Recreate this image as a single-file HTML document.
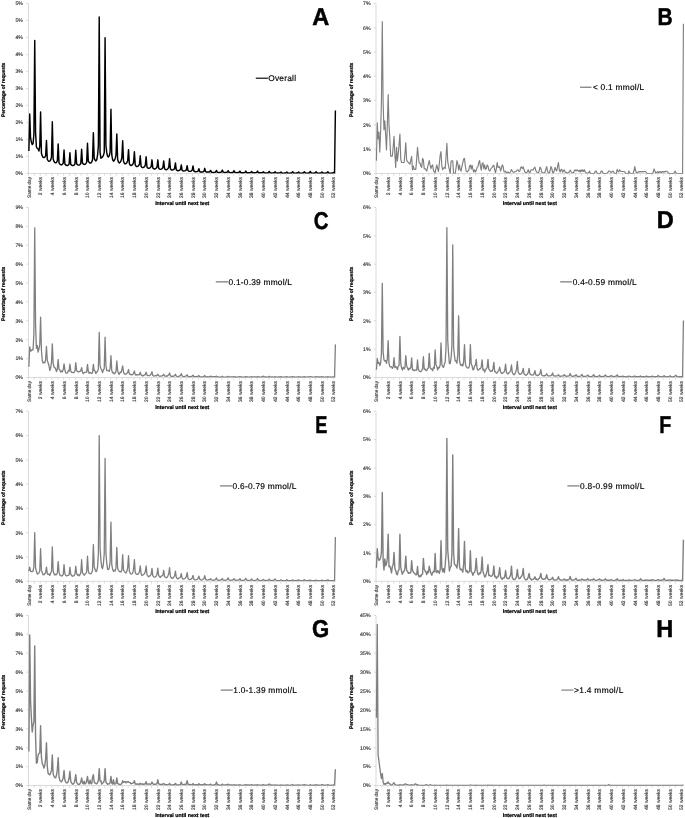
<!DOCTYPE html>
<html><head><meta charset="utf-8"><title>Figure</title>
<style>
html,body{margin:0;padding:0;background:#fff;}
svg{display:block;filter:grayscale(1);}
text{font-family:"Liberation Sans",sans-serif;text-rendering:geometricPrecision;}
.t{font-size:5.2px;fill:#3a3a3a;stroke:#3a3a3a;stroke-width:0.15px;}
.x{font-size:5.0px;fill:#3a3a3a;stroke:#3a3a3a;stroke-width:0.15px;}
.b{font-size:5.3px;font-weight:bold;fill:#000;stroke:#000;stroke-width:0.22px;}
.lg{font-size:8.35px;fill:#000;stroke:#000;stroke-width:0.16px;}
.L{font-size:24.3px;font-weight:bold;fill:#000;stroke:#000;stroke-width:0.5px;}
</style></head><body>
<svg width="685" height="818" viewBox="0 0 685 818">
<rect width="685" height="818" fill="#fff"/>
<g>
<path d="M28.45 3.45V173.45H335.81" fill="none" stroke="#cdcdcd" stroke-width="0.75"/>
<text class="t" x="22.95" y="175.3" text-anchor="end">0%</text>
<text class="t" x="22.95" y="158.3" text-anchor="end">1%</text>
<text class="t" x="22.95" y="141.3" text-anchor="end">1%</text>
<text class="t" x="22.95" y="124.3" text-anchor="end">2%</text>
<text class="t" x="22.95" y="107.3" text-anchor="end">2%</text>
<text class="t" x="22.95" y="90.3" text-anchor="end">3%</text>
<text class="t" x="22.95" y="73.3" text-anchor="end">3%</text>
<text class="t" x="22.95" y="56.3" text-anchor="end">4%</text>
<text class="t" x="22.95" y="39.3" text-anchor="end">4%</text>
<text class="t" x="22.95" y="22.3" text-anchor="end">5%</text>
<text class="t" x="22.95" y="5.3" text-anchor="end">5%</text>
<path d="M26.15 173.45H28.45M26.15 156.45H28.45M26.15 139.45H28.45M26.15 122.45H28.45M26.15 105.45H28.45M26.15 88.45H28.45M26.15 71.45H28.45M26.15 54.45H28.45M26.15 37.45H28.45M26.15 20.45H28.45M26.15 3.45H28.45M28.45 173.45V175.75M34.31 173.45V175.75M40.17 173.45V175.75M46.04 173.45V175.75M51.9 173.45V175.75M57.76 173.45V175.75M63.62 173.45V175.75M69.49 173.45V175.75M75.35 173.45V175.75M81.21 173.45V175.75M87.08 173.45V175.75M92.94 173.45V175.75M98.8 173.45V175.75M104.66 173.45V175.75M110.53 173.45V175.75M116.39 173.45V175.75M122.25 173.45V175.75M128.11 173.45V175.75M133.97 173.45V175.75M139.84 173.45V175.75M145.7 173.45V175.75M151.56 173.45V175.75M157.42 173.45V175.75M163.29 173.45V175.75M169.15 173.45V175.75M175.01 173.45V175.75M180.88 173.45V175.75M186.74 173.45V175.75M192.6 173.45V175.75M198.46 173.45V175.75M204.32 173.45V175.75M210.19 173.45V175.75M216.05 173.45V175.75M221.91 173.45V175.75M227.78 173.45V175.75M233.64 173.45V175.75M239.5 173.45V175.75M245.36 173.45V175.75M251.22 173.45V175.75M257.09 173.45V175.75M262.95 173.45V175.75M268.81 173.45V175.75M274.68 173.45V175.75M280.54 173.45V175.75M286.4 173.45V175.75M292.26 173.45V175.75M298.12 173.45V175.75M303.99 173.45V175.75M309.85 173.45V175.75M315.71 173.45V175.75M321.57 173.45V175.75M327.44 173.45V175.75M333.3 173.45V175.75" stroke="#cdcdcd" stroke-width="0.7" fill="none"/>
<text class="x" transform="translate(30.6 176.95) rotate(-90)" text-anchor="end" textLength="21" lengthAdjust="spacingAndGlyphs">Same day</text>
<text class="x" transform="translate(42.32 176.95) rotate(-90)" text-anchor="end">2 weeks</text>
<text class="x" transform="translate(54.05 176.95) rotate(-90)" text-anchor="end">4 weeks</text>
<text class="x" transform="translate(65.78 176.95) rotate(-90)" text-anchor="end">6 weeks</text>
<text class="x" transform="translate(77.5 176.95) rotate(-90)" text-anchor="end">8 weeks</text>
<text class="x" transform="translate(89.23 176.95) rotate(-90)" text-anchor="end">10 weeks</text>
<text class="x" transform="translate(100.95 176.95) rotate(-90)" text-anchor="end">12 weeks</text>
<text class="x" transform="translate(112.68 176.95) rotate(-90)" text-anchor="end">14 weeks</text>
<text class="x" transform="translate(124.4 176.95) rotate(-90)" text-anchor="end">16 weeks</text>
<text class="x" transform="translate(136.12 176.95) rotate(-90)" text-anchor="end">18 weeks</text>
<text class="x" transform="translate(147.85 176.95) rotate(-90)" text-anchor="end">20 weeks</text>
<text class="x" transform="translate(159.57 176.95) rotate(-90)" text-anchor="end">22 weeks</text>
<text class="x" transform="translate(171.3 176.95) rotate(-90)" text-anchor="end">24 weeks</text>
<text class="x" transform="translate(183.03 176.95) rotate(-90)" text-anchor="end">26 weeks</text>
<text class="x" transform="translate(194.75 176.95) rotate(-90)" text-anchor="end">28 weeks</text>
<text class="x" transform="translate(206.47 176.95) rotate(-90)" text-anchor="end">30 weeks</text>
<text class="x" transform="translate(218.2 176.95) rotate(-90)" text-anchor="end">32 weeks</text>
<text class="x" transform="translate(229.93 176.95) rotate(-90)" text-anchor="end">34 weeks</text>
<text class="x" transform="translate(241.65 176.95) rotate(-90)" text-anchor="end">36 weeks</text>
<text class="x" transform="translate(253.38 176.95) rotate(-90)" text-anchor="end">38 weeks</text>
<text class="x" transform="translate(265.1 176.95) rotate(-90)" text-anchor="end">40 weeks</text>
<text class="x" transform="translate(276.82 176.95) rotate(-90)" text-anchor="end">42 weeks</text>
<text class="x" transform="translate(288.55 176.95) rotate(-90)" text-anchor="end">44 weeks</text>
<text class="x" transform="translate(300.27 176.95) rotate(-90)" text-anchor="end">46 weeks</text>
<text class="x" transform="translate(312 176.95) rotate(-90)" text-anchor="end">48 weeks</text>
<text class="x" transform="translate(323.72 176.95) rotate(-90)" text-anchor="end">50 weeks</text>
<text class="x" transform="translate(335.45 176.95) rotate(-90)" text-anchor="end">52 weeks</text>
<text class="b" transform="translate(5.05 89.85) rotate(-90)" text-anchor="middle" textLength="54.4" lengthAdjust="spacingAndGlyphs">Percentage of requests</text>
<text class="b" x="182.25" y="205" text-anchor="middle" textLength="54.2" lengthAdjust="spacingAndGlyphs">Interval until next test</text>
<clipPath id="cpA"><rect x="25.45" y="-2.55" width="313.36" height="176.2"/></clipPath>
<polyline clip-path="url(#cpA)" points="28.87,151.01 29.71,113.95 30.54,137.75 31.38,142.17 32.22,144.55 33.06,143.53 33.89,134.35 34.73,40.51 35.57,132.65 36.41,146.93 37.24,148.29 38.08,148.97 38.92,151.01 39.76,146.25 40.59,111.91 41.43,153.22 42.27,155.97 43.11,157.35 43.94,157.64 44.78,157.12 45.62,155.9 46.46,140.47 47.29,159.44 48.13,160.71 48.97,161.34 49.81,161.15 50.64,159.96 51.48,157.17 52.32,121.77 53.16,158.95 53.99,161.43 54.83,162.67 55.67,162.89 56.51,162.31 57.34,160.97 58.18,143.87 59.02,162.84 59.86,164.11 60.69,164.74 61.53,164.8 62.37,164.35 63.21,163.3 64.04,149.99 64.88,164.07 65.72,165 66.56,165.47 67.39,165.5 68.23,165.11 69.07,164.21 69.91,152.71 70.74,164.34 71.58,165.11 72.42,165.5 73.26,165.48 74.09,165.02 74.93,163.95 75.77,150.33 76.61,163.79 77.44,164.69 78.28,165.14 79.12,165.13 79.96,164.65 80.79,163.53 81.63,149.31 82.47,163.08 83.31,164 84.14,164.46 84.98,164.4 85.82,163.75 86.66,162.25 87.49,143.19 88.33,161.24 89.17,162.45 90.01,163.05 90.84,162.94 91.68,162.03 92.52,159.88 93.36,132.65 94.19,158.35 95.03,160.07 95.87,160.92 96.71,159.77 97.54,155.44 98.38,145.35 99.22,17.05 100.06,152.37 100.89,158.15 101.73,157.81 102.57,156.79 103.41,155.43 104.24,152.37 105.08,37.79 105.92,145.5 106.76,152.68 107.59,156.27 108.43,156.99 109.27,155.54 110.11,152.16 110.94,109.19 111.78,154.97 112.62,159.65 113.46,161.21 114.29,160.39 115.13,158.76 115.97,155.23 116.81,134.01 117.64,159.44 118.48,162.04 119.32,162.91 120.16,162.25 120.99,160.92 121.83,158.05 122.67,140.81 123.51,161.16 124.34,163.24 125.18,163.93 126.02,163.5 126.86,162.64 127.69,160.79 128.53,149.65 129.37,163.71 130.21,165.15 131.04,165.63 131.88,165.21 132.72,164.38 133.56,162.56 134.39,151.69 135.23,164.85 136.07,166.2 136.91,166.65 137.74,166.32 138.58,165.67 139.42,164.26 140.26,155.77 141.09,166.24 141.93,167.31 142.77,167.67 143.61,167.34 144.44,166.69 145.28,165.28 146.12,156.79 146.96,166.96 147.79,168 148.63,168.35 149.47,168.09 150.31,167.58 151.14,166.48 151.98,159.85 152.82,167.93 153.66,168.75 154.49,169.03 155.33,168.75 156.17,168.2 157.01,167.01 157.84,159.85 158.68,168.23 159.52,169.08 160.36,169.37 161.19,169.11 162.03,168.6 162.87,167.5 163.71,160.87 164.54,168.65 165.38,169.44 166.22,169.71 167.06,169.38 167.89,168.73 168.73,167.32 169.57,158.83 170.41,168.7 171.24,169.71 172.08,170.05 172.92,169.84 173.76,169.41 174.59,168.48 175.43,162.91 176.27,169.79 177.11,170.5 177.94,170.73 178.78,170.56 179.62,170.21 180.46,169.46 181.29,164.95 182.13,170.34 182.97,170.89 183.81,171.07 184.64,170.91 185.48,170.58 186.32,169.87 187.16,165.63 187.99,170.72 188.83,171.24 189.67,171.41 190.51,171.25 191.34,170.92 192.18,170.21 193.02,165.97 193.86,171.06 194.69,171.58 195.53,171.75 196.37,171.66 197.21,171.47 198.04,171.08 198.88,168.69 199.72,171.68 200.56,171.99 201.39,172.09 202.23,171.98 203.07,171.75 203.91,171.27 204.74,168.35 205.58,171.64 206.42,171.98 207.26,172.09 208.09,172.04 208.93,171.94 209.77,171.72 210.61,170.39 211.44,172.19 212.28,172.37 213.12,172.43 213.96,172.37 214.79,172.25 215.63,171.98 216.47,170.39 217.31,172.19 218.14,172.37 218.98,172.43 219.82,172.36 220.66,172.22 221.49,171.91 222.33,170.05 223.17,172.14 224.01,172.36 224.84,172.43 225.68,172.38 226.52,172.28 227.36,172.06 228.19,170.73 229.03,172.38 229.87,172.54 230.71,172.6 231.54,172.54 232.38,172.43 233.22,172.19 234.06,170.73 234.89,172.38 235.73,172.54 236.57,172.6 237.41,172.55 238.24,172.46 239.08,172.26 239.92,171.07 240.76,172.57 241.59,172.72 242.43,172.77 243.27,172.72 244.11,172.62 244.94,172.4 245.78,171.07 246.62,172.57 247.46,172.72 248.29,172.77 249.13,172.73 249.97,172.65 250.81,172.47 251.64,171.41 252.48,172.61 253.32,172.73 254.16,172.77 254.99,172.72 255.83,172.62 256.67,172.4 257.51,171.07 258.34,172.57 259.18,172.72 260.02,172.77 260.86,172.74 261.69,172.68 262.53,172.55 263.37,171.75 264.21,172.8 265.04,172.9 265.88,172.94 266.72,172.89 267.56,172.8 268.39,172.6 269.23,171.41 270.07,172.76 270.91,172.89 271.74,172.94 272.58,172.9 273.42,172.83 274.26,172.68 275.09,171.75 275.93,172.8 276.77,172.9 277.61,172.94 278.44,172.91 279.28,172.86 280.12,172.75 280.96,172.09 281.79,172.99 282.63,173.08 283.47,173.11 284.31,173.08 285.14,173.02 285.98,172.89 286.82,172.09 287.66,172.99 288.49,173.08 289.33,173.11 290.17,173.07 291.01,172.99 291.84,172.81 292.68,171.75 293.52,172.95 294.36,173.07 295.19,173.11 296.03,173.08 296.87,173.02 297.71,172.89 298.54,172.09 299.38,172.99 300.22,173.08 301.06,173.11 301.89,173.07 302.73,172.99 303.57,172.81 304.41,171.75 305.24,172.95 306.08,173.07 306.92,173.11 307.76,173.06 308.59,172.96 309.43,172.74 310.27,171.41 311.11,172.91 311.94,173.06 312.78,173.11 313.62,173.07 314.46,172.99 315.29,172.81 316.13,171.75 316.97,172.95 317.81,173.07 318.64,173.11 319.48,173.08 320.32,173.02 321.16,172.89 321.99,172.09 322.83,172.99 323.67,173.08 324.51,173.11 325.34,173.07 326.18,172.99 327.02,172.81 327.86,171.75 328.69,172.95 329.53,173.07 330.37,173.11 331.21,173.09 332.04,173.05 332.88,172.96 333.72,172.43 334.56,173.03 335.39,110.55" fill="none" stroke="#000000" stroke-width="1.45" stroke-linejoin="round" stroke-linecap="butt"/>
<path d="M255.8 78.2H267.9" stroke="#000" stroke-width="1.15" fill="none"/>
<text class="lg" x="268.2" y="80.8" textLength="27.8" lengthAdjust="spacing">Overall</text>
<text class="L" transform="translate(320.75 24.55) scale(0.97 1)" text-anchor="middle">A</text>
</g>
<g>
<path d="M376 3.45V173.45H683.84" fill="none" stroke="#cdcdcd" stroke-width="0.75"/>
<text class="t" x="370.5" y="175.3" text-anchor="end">0%</text>
<text class="t" x="370.5" y="151.01" text-anchor="end">1%</text>
<text class="t" x="370.5" y="126.73" text-anchor="end">2%</text>
<text class="t" x="370.5" y="102.44" text-anchor="end">3%</text>
<text class="t" x="370.5" y="78.16" text-anchor="end">4%</text>
<text class="t" x="370.5" y="53.87" text-anchor="end">5%</text>
<text class="t" x="370.5" y="29.59" text-anchor="end">6%</text>
<text class="t" x="370.5" y="5.3" text-anchor="end">7%</text>
<path d="M373.7 173.45H376M373.7 149.16H376M373.7 124.88H376M373.7 100.59H376M373.7 76.31H376M373.7 52.02H376M373.7 27.74H376M373.7 3.45H376M376 173.45V175.75M381.87 173.45V175.75M387.74 173.45V175.75M393.61 173.45V175.75M399.49 173.45V175.75M405.36 173.45V175.75M411.23 173.45V175.75M417.1 173.45V175.75M422.97 173.45V175.75M428.84 173.45V175.75M434.72 173.45V175.75M440.59 173.45V175.75M446.46 173.45V175.75M452.33 173.45V175.75M458.2 173.45V175.75M464.07 173.45V175.75M469.95 173.45V175.75M475.82 173.45V175.75M481.69 173.45V175.75M487.56 173.45V175.75M493.43 173.45V175.75M499.3 173.45V175.75M505.18 173.45V175.75M511.05 173.45V175.75M516.92 173.45V175.75M522.79 173.45V175.75M528.66 173.45V175.75M534.53 173.45V175.75M540.4 173.45V175.75M546.28 173.45V175.75M552.15 173.45V175.75M558.02 173.45V175.75M563.89 173.45V175.75M569.76 173.45V175.75M575.63 173.45V175.75M581.51 173.45V175.75M587.38 173.45V175.75M593.25 173.45V175.75M599.12 173.45V175.75M604.99 173.45V175.75M610.86 173.45V175.75M616.74 173.45V175.75M622.61 173.45V175.75M628.48 173.45V175.75M634.35 173.45V175.75M640.22 173.45V175.75M646.09 173.45V175.75M651.97 173.45V175.75M657.84 173.45V175.75M663.71 173.45V175.75M669.58 173.45V175.75M675.45 173.45V175.75M681.32 173.45V175.75" stroke="#cdcdcd" stroke-width="0.7" fill="none"/>
<text class="x" transform="translate(378.15 176.95) rotate(-90)" text-anchor="end" textLength="21" lengthAdjust="spacingAndGlyphs">Same day</text>
<text class="x" transform="translate(389.89 176.95) rotate(-90)" text-anchor="end">2 weeks</text>
<text class="x" transform="translate(401.64 176.95) rotate(-90)" text-anchor="end">4 weeks</text>
<text class="x" transform="translate(413.38 176.95) rotate(-90)" text-anchor="end">6 weeks</text>
<text class="x" transform="translate(425.12 176.95) rotate(-90)" text-anchor="end">8 weeks</text>
<text class="x" transform="translate(436.87 176.95) rotate(-90)" text-anchor="end">10 weeks</text>
<text class="x" transform="translate(448.61 176.95) rotate(-90)" text-anchor="end">12 weeks</text>
<text class="x" transform="translate(460.35 176.95) rotate(-90)" text-anchor="end">14 weeks</text>
<text class="x" transform="translate(472.1 176.95) rotate(-90)" text-anchor="end">16 weeks</text>
<text class="x" transform="translate(483.84 176.95) rotate(-90)" text-anchor="end">18 weeks</text>
<text class="x" transform="translate(495.58 176.95) rotate(-90)" text-anchor="end">20 weeks</text>
<text class="x" transform="translate(507.33 176.95) rotate(-90)" text-anchor="end">22 weeks</text>
<text class="x" transform="translate(519.07 176.95) rotate(-90)" text-anchor="end">24 weeks</text>
<text class="x" transform="translate(530.81 176.95) rotate(-90)" text-anchor="end">26 weeks</text>
<text class="x" transform="translate(542.55 176.95) rotate(-90)" text-anchor="end">28 weeks</text>
<text class="x" transform="translate(554.3 176.95) rotate(-90)" text-anchor="end">30 weeks</text>
<text class="x" transform="translate(566.04 176.95) rotate(-90)" text-anchor="end">32 weeks</text>
<text class="x" transform="translate(577.78 176.95) rotate(-90)" text-anchor="end">34 weeks</text>
<text class="x" transform="translate(589.53 176.95) rotate(-90)" text-anchor="end">36 weeks</text>
<text class="x" transform="translate(601.27 176.95) rotate(-90)" text-anchor="end">38 weeks</text>
<text class="x" transform="translate(613.01 176.95) rotate(-90)" text-anchor="end">40 weeks</text>
<text class="x" transform="translate(624.76 176.95) rotate(-90)" text-anchor="end">42 weeks</text>
<text class="x" transform="translate(636.5 176.95) rotate(-90)" text-anchor="end">44 weeks</text>
<text class="x" transform="translate(648.24 176.95) rotate(-90)" text-anchor="end">46 weeks</text>
<text class="x" transform="translate(659.99 176.95) rotate(-90)" text-anchor="end">48 weeks</text>
<text class="x" transform="translate(671.73 176.95) rotate(-90)" text-anchor="end">50 weeks</text>
<text class="x" transform="translate(683.47 176.95) rotate(-90)" text-anchor="end">52 weeks</text>
<text class="b" transform="translate(352.6 89.85) rotate(-90)" text-anchor="middle" textLength="54.4" lengthAdjust="spacingAndGlyphs">Percentage of requests</text>
<text class="b" x="529.8" y="205" text-anchor="middle" textLength="54.2" lengthAdjust="spacingAndGlyphs">Interval until next test</text>
<clipPath id="cpB"><rect x="373" y="-2.55" width="313.84" height="176.2"/></clipPath>
<polyline clip-path="url(#cpB)" points="376.42,160.82 377.26,122.94 378.1,138.96 378.94,132.16 379.77,152.08 380.61,132.16 381.45,100.59 382.29,21.66 383.13,103.02 383.97,129.74 384.81,120.75 385.65,134.59 386.49,149.89 387.32,124.88 388.16,94.52 389,124.88 389.84,138.24 390.68,155.96 391.52,156.45 392.36,155.96 393.2,146.74 394.03,136.29 394.87,154.02 395.71,167.38 396.55,147.22 397.39,160.82 398.23,154.02 399.07,144.31 399.91,134.11 400.74,158.88 401.58,162.52 402.42,162.52 403.26,162.52 404.1,162.52 404.94,154.02 405.78,142.85 406.62,160.09 407.45,161.31 408.29,162.52 409.13,163.25 409.97,164.22 410.81,160.09 411.65,156.45 412.49,169.81 413.33,166.16 414.17,169.32 415,169.32 415.84,169.32 416.68,158.88 417.52,147.22 418.36,156.45 419.2,163.01 420.04,163.01 420.88,166.16 421.71,167.38 422.55,158.39 423.39,160.09 424.23,168.59 425.07,168.59 425.91,169.81 426.75,171.02 427.59,167.38 428.43,163.74 429.26,160.58 430.1,164.95 430.94,168.59 431.78,166.16 432.62,164.95 433.46,170.54 434.3,171.99 435.14,172.96 435.97,168.59 436.81,164.95 437.65,168.59 438.49,171.51 439.33,163.74 440.17,155.24 441.01,151.59 441.85,166.16 442.68,169.81 443.52,168.11 444.36,167.38 445.2,168.59 446.04,156.45 446.88,143.34 447.72,161.31 448.56,166.16 449.39,169.81 450.23,173.45 451.07,161.31 451.91,160.82 452.75,160.82 453.59,173.45 454.43,173.45 455.27,173.45 456.11,167.38 456.94,160.58 457.78,163.74 458.62,169.81 459.46,164.95 460.3,169.81 461.14,171.02 461.98,166.16 462.82,162.52 463.65,158.88 464.49,158.39 465.33,166.16 466.17,171.02 467.01,171.99 467.85,171.02 468.69,170.54 469.53,166.16 470.37,165.19 471.2,169.08 472.04,165.19 472.88,169.08 473.72,171.99 474.56,169.81 475.4,171.99 476.24,170.54 477.08,167.38 477.91,166.65 478.75,162.52 479.59,160.58 480.43,166.16 481.27,170.05 482.11,163.74 482.95,162.76 483.79,168.59 484.62,164.95 485.46,169.32 486.3,168.59 487.14,164.95 487.98,166.16 488.82,169.81 489.66,171.02 490.5,169.81 491.33,168.11 492.17,167.38 493.01,165.68 493.85,165.19 494.69,169.81 495.53,172.72 496.37,168.59 497.21,162.52 498.05,167.38 498.88,167.38 499.72,166.65 500.56,171.02 501.4,168.59 502.24,164.95 503.08,166.16 503.92,171.51 504.76,171.99 505.59,171.02 506.43,172.96 507.27,172.96 508.11,171.99 508.95,172.96 509.79,172.96 510.63,171.51 511.47,169.56 512.31,171.02 513.14,172.24 513.98,172.24 514.82,171.75 515.66,171.51 516.5,171.02 517.34,169.81 518.18,170.05 519.02,171.51 519.85,171.02 520.69,167.38 521.53,166.89 522.37,168.59 523.21,166.89 524.05,169.81 524.89,171.99 525.73,172.48 526.56,172.96 527.4,171.51 528.24,169.81 529.08,172.24 529.92,172.72 530.76,170.05 531.6,169.81 532.44,169.81 533.27,169.81 534.11,168.11 534.95,167.14 535.79,170.54 536.63,171.99 537.47,172.48 538.31,172.72 539.15,171.02 539.99,167.14 540.82,168.11 541.66,171.99 542.5,172.48 543.34,172.72 544.18,172.72 545.02,172.24 545.86,169.08 546.7,166.65 547.53,171.02 548.37,172.96 549.21,172.96 550.05,171.02 550.89,166.65 551.73,168.11 552.57,172.24 553.41,172.96 554.25,170.54 555.08,167.38 555.92,169.81 556.76,171.02 557.6,166.16 558.44,162.52 559.28,169.81 560.12,171.99 560.96,169.81 561.79,169.32 562.63,172.24 563.47,170.54 564.31,169.81 565.15,172.24 565.99,172.24 566.83,172.96 567.67,172.96 568.5,172.24 569.34,171.99 570.18,170.05 571.02,171.51 571.86,172.72 572.7,172.72 573.54,172.72 574.38,170.54 575.22,169.81 576.05,171.02 576.89,169.81 577.73,170.29 578.57,171.51 579.41,170.29 580.25,171.99 581.09,169.81 581.93,171.51 582.76,169.81 583.6,171.51 584.44,169.81 585.28,171.99 586.12,172.96 586.96,172.96 587.8,172.96 588.64,172.96 589.47,171.02 590.31,172.96 591.15,173.45 591.99,173.45 592.83,173.45 593.67,173.45 594.51,172.96 595.35,171.02 596.18,171.02 597.02,172.96 597.86,173.45 598.7,173.45 599.54,173.45 600.38,172.96 601.22,171.02 602.06,171.02 602.9,172.96 603.73,173.45 604.57,173.45 605.41,173.45 606.25,173.45 607.09,173.45 607.93,172.24 608.77,171.02 609.61,171.02 610.44,171.99 611.28,172.48 612.12,171.51 612.96,171.02 613.8,172.24 614.64,173.45 615.48,173.45 616.32,173.45 617.15,169.32 617.99,171.02 618.83,171.99 619.67,169.81 620.51,171.02 621.35,171.51 622.19,171.51 623.03,171.51 623.87,171.51 624.7,171.75 625.54,173.45 626.38,173.45 627.22,173.45 628.06,173.45 628.9,171.02 629.74,172.96 630.58,173.45 631.41,173.45 632.25,173.45 633.09,173.45 633.93,171.02 634.77,166.65 635.61,170.54 636.45,172.72 637.29,172.96 638.12,172.24 638.96,171.51 639.8,171.99 640.64,171.51 641.48,171.99 642.32,171.51 643.16,171.99 644,171.51 644.84,171.51 645.67,171.51 646.51,172.96 647.35,173.45 648.19,173.45 649.03,173.45 649.87,173.45 650.71,173.45 651.55,173.45 652.38,173.45 653.22,172.24 654.06,168.84 654.9,171.02 655.74,172.96 656.58,172.96 657.42,171.51 658.26,172.72 659.1,171.51 659.93,172.72 660.77,171.51 661.61,172.48 662.45,171.51 663.29,172.24 664.13,171.51 664.97,171.99 665.81,171.26 666.64,171.26 667.48,171.51 668.32,172.96 669.16,173.45 670,173.45 670.84,173.45 671.68,173.45 672.52,173.45 673.35,173.45 674.19,172.96 675.03,171.02 675.87,172.72 676.71,173.45 677.55,173.45 678.39,173.45 679.23,173.45 680.07,173.45 680.9,173.45 681.74,173.45 682.58,173.45 683.42,23.85" fill="none" stroke="#7f7f7f" stroke-width="1.15" stroke-linejoin="round" stroke-linecap="butt"/>
<path d="M580.1 87.2H591.5" stroke="#5a5a5a" stroke-width="1.0" fill="none"/>
<text class="lg" x="592.9" y="89.8" textLength="51.2" lengthAdjust="spacing">&lt; 0.1 mmol/L</text>
<text class="L" transform="translate(665.05 24.55) scale(0.865 1)" text-anchor="middle">B</text>
</g>
<g>
<path d="M28.45 207.45V377.45H335.81" fill="none" stroke="#cdcdcd" stroke-width="0.75"/>
<text class="t" x="22.95" y="379.3" text-anchor="end">0%</text>
<text class="t" x="22.95" y="360.41" text-anchor="end">1%</text>
<text class="t" x="22.95" y="341.52" text-anchor="end">2%</text>
<text class="t" x="22.95" y="322.63" text-anchor="end">3%</text>
<text class="t" x="22.95" y="303.74" text-anchor="end">4%</text>
<text class="t" x="22.95" y="284.86" text-anchor="end">5%</text>
<text class="t" x="22.95" y="265.97" text-anchor="end">6%</text>
<text class="t" x="22.95" y="247.08" text-anchor="end">7%</text>
<text class="t" x="22.95" y="228.19" text-anchor="end">8%</text>
<text class="t" x="22.95" y="209.3" text-anchor="end">9%</text>
<path d="M26.15 377.45H28.45M26.15 358.56H28.45M26.15 339.67H28.45M26.15 320.78H28.45M26.15 301.89H28.45M26.15 283.01H28.45M26.15 264.12H28.45M26.15 245.23H28.45M26.15 226.34H28.45M26.15 207.45H28.45M28.45 377.45V379.75M34.31 377.45V379.75M40.17 377.45V379.75M46.04 377.45V379.75M51.9 377.45V379.75M57.76 377.45V379.75M63.62 377.45V379.75M69.49 377.45V379.75M75.35 377.45V379.75M81.21 377.45V379.75M87.08 377.45V379.75M92.94 377.45V379.75M98.8 377.45V379.75M104.66 377.45V379.75M110.53 377.45V379.75M116.39 377.45V379.75M122.25 377.45V379.75M128.11 377.45V379.75M133.97 377.45V379.75M139.84 377.45V379.75M145.7 377.45V379.75M151.56 377.45V379.75M157.42 377.45V379.75M163.29 377.45V379.75M169.15 377.45V379.75M175.01 377.45V379.75M180.88 377.45V379.75M186.74 377.45V379.75M192.6 377.45V379.75M198.46 377.45V379.75M204.32 377.45V379.75M210.19 377.45V379.75M216.05 377.45V379.75M221.91 377.45V379.75M227.78 377.45V379.75M233.64 377.45V379.75M239.5 377.45V379.75M245.36 377.45V379.75M251.22 377.45V379.75M257.09 377.45V379.75M262.95 377.45V379.75M268.81 377.45V379.75M274.68 377.45V379.75M280.54 377.45V379.75M286.4 377.45V379.75M292.26 377.45V379.75M298.12 377.45V379.75M303.99 377.45V379.75M309.85 377.45V379.75M315.71 377.45V379.75M321.57 377.45V379.75M327.44 377.45V379.75M333.3 377.45V379.75" stroke="#cdcdcd" stroke-width="0.7" fill="none"/>
<text class="x" transform="translate(30.6 380.95) rotate(-90)" text-anchor="end" textLength="21" lengthAdjust="spacingAndGlyphs">Same day</text>
<text class="x" transform="translate(42.32 380.95) rotate(-90)" text-anchor="end">2 weeks</text>
<text class="x" transform="translate(54.05 380.95) rotate(-90)" text-anchor="end">4 weeks</text>
<text class="x" transform="translate(65.78 380.95) rotate(-90)" text-anchor="end">6 weeks</text>
<text class="x" transform="translate(77.5 380.95) rotate(-90)" text-anchor="end">8 weeks</text>
<text class="x" transform="translate(89.23 380.95) rotate(-90)" text-anchor="end">10 weeks</text>
<text class="x" transform="translate(100.95 380.95) rotate(-90)" text-anchor="end">12 weeks</text>
<text class="x" transform="translate(112.68 380.95) rotate(-90)" text-anchor="end">14 weeks</text>
<text class="x" transform="translate(124.4 380.95) rotate(-90)" text-anchor="end">16 weeks</text>
<text class="x" transform="translate(136.12 380.95) rotate(-90)" text-anchor="end">18 weeks</text>
<text class="x" transform="translate(147.85 380.95) rotate(-90)" text-anchor="end">20 weeks</text>
<text class="x" transform="translate(159.57 380.95) rotate(-90)" text-anchor="end">22 weeks</text>
<text class="x" transform="translate(171.3 380.95) rotate(-90)" text-anchor="end">24 weeks</text>
<text class="x" transform="translate(183.03 380.95) rotate(-90)" text-anchor="end">26 weeks</text>
<text class="x" transform="translate(194.75 380.95) rotate(-90)" text-anchor="end">28 weeks</text>
<text class="x" transform="translate(206.47 380.95) rotate(-90)" text-anchor="end">30 weeks</text>
<text class="x" transform="translate(218.2 380.95) rotate(-90)" text-anchor="end">32 weeks</text>
<text class="x" transform="translate(229.93 380.95) rotate(-90)" text-anchor="end">34 weeks</text>
<text class="x" transform="translate(241.65 380.95) rotate(-90)" text-anchor="end">36 weeks</text>
<text class="x" transform="translate(253.38 380.95) rotate(-90)" text-anchor="end">38 weeks</text>
<text class="x" transform="translate(265.1 380.95) rotate(-90)" text-anchor="end">40 weeks</text>
<text class="x" transform="translate(276.82 380.95) rotate(-90)" text-anchor="end">42 weeks</text>
<text class="x" transform="translate(288.55 380.95) rotate(-90)" text-anchor="end">44 weeks</text>
<text class="x" transform="translate(300.27 380.95) rotate(-90)" text-anchor="end">46 weeks</text>
<text class="x" transform="translate(312 380.95) rotate(-90)" text-anchor="end">48 weeks</text>
<text class="x" transform="translate(323.72 380.95) rotate(-90)" text-anchor="end">50 weeks</text>
<text class="x" transform="translate(335.45 380.95) rotate(-90)" text-anchor="end">52 weeks</text>
<text class="b" transform="translate(5.05 293.85) rotate(-90)" text-anchor="middle" textLength="54.4" lengthAdjust="spacingAndGlyphs">Percentage of requests</text>
<text class="b" x="182.25" y="409" text-anchor="middle" textLength="54.2" lengthAdjust="spacingAndGlyphs">Interval until next test</text>
<clipPath id="cpC"><rect x="25.45" y="201.45" width="313.36" height="176.2"/></clipPath>
<polyline clip-path="url(#cpC)" points="28.87,366.68 29.71,346.85 30.54,351.19 31.38,350.63 32.22,349.49 33.06,349.87 33.89,334.01 34.73,227.85 35.57,324.56 36.41,348.36 37.24,345.34 38.08,352.14 38.92,349.12 39.76,344.39 40.59,317.19 41.43,350.06 42.27,360.45 43.11,363.09 43.94,362.34 44.78,362.72 45.62,359.51 46.46,346.47 47.29,360.45 48.13,362.72 48.97,365.74 49.81,370.46 50.64,368.01 51.48,362.34 52.32,343.83 53.16,363.28 53.99,367.06 54.83,367.63 55.67,368.95 56.51,371.59 57.34,368.95 58.18,359.51 59.02,369.21 59.86,369.98 60.69,372.08 61.53,370.93 62.37,371.7 63.21,369.6 64.04,363.85 64.88,369.83 65.72,372.81 66.56,373.12 67.39,372.91 68.23,370.69 69.07,371.36 69.91,364.04 70.74,370.7 71.58,372.44 72.42,372.33 73.26,372.64 74.09,372.44 74.93,370.98 75.77,362.72 76.61,370.76 77.44,371.06 78.28,372.09 79.12,371.49 79.96,371.52 80.79,370.74 81.63,367.63 82.47,372.03 83.31,373.71 84.14,372.55 84.98,372.33 85.82,372.19 86.66,372.09 87.49,364.42 88.33,371.25 89.17,373.3 90.01,372.39 90.84,372.95 91.68,373.31 92.52,373.01 93.36,364.42 94.19,370.37 95.03,370.93 95.87,373.55 96.71,371.8 97.54,371.55 98.38,368.57 99.22,332.31 100.06,365.63 100.89,368.43 101.73,370.05 102.57,372.64 103.41,369.84 104.24,368.55 105.08,337.22 105.92,365.63 106.76,370.53 107.59,370.7 108.43,370.42 109.27,371.29 110.11,368.44 110.94,355.73 111.78,370.46 112.62,372.88 113.46,372.49 114.29,373.83 115.13,373.09 115.97,371.54 116.81,361.02 117.64,370.85 118.48,373.27 119.32,374.25 120.16,372.16 120.99,372.58 121.83,369.76 122.67,365.93 123.51,372.11 124.34,373.94 125.18,374.3 126.02,373.97 126.86,373.3 127.69,372.43 128.53,369.52 129.37,373.94 130.21,374.52 131.04,374.45 131.88,374.79 132.72,374.48 133.56,373.34 134.39,371.03 135.23,374.73 136.07,375.16 136.91,374.64 137.74,375.01 138.58,374.68 139.42,374.68 140.26,372.16 141.09,375.03 141.93,375.28 142.77,376.01 143.61,375.28 144.44,374.93 145.28,374.79 146.12,372.16 146.96,375 147.79,375.56 148.63,375.6 149.47,375.68 150.31,374.98 151.14,374.16 151.98,371.78 152.82,375.55 153.66,376.02 154.49,375.81 155.33,375.5 156.17,375.87 157.01,375.38 157.84,374.24 158.68,375.73 159.52,376.13 160.36,376.22 161.19,376.16 162.03,375.93 162.87,375.4 163.71,374.24 164.54,375.92 165.38,376.1 166.22,375.95 167.06,376.28 167.89,375.6 168.73,374.85 169.57,372.92 170.41,375.81 171.24,376.27 172.08,376.14 172.92,376.36 173.76,376.18 174.59,375.63 175.43,374.24 176.27,376 177.11,376.56 177.94,376.59 178.78,376.44 179.62,375.92 180.46,375.54 181.29,373.67 182.13,375.83 182.97,376.49 183.81,376.58 184.64,376.35 185.48,376.07 186.32,375.93 187.16,374.81 187.99,376.46 188.83,376.72 189.67,376.68 190.51,376.74 191.34,376.35 192.18,376.04 193.02,375.18 193.86,376.54 194.69,376.69 195.53,376.58 196.37,376.58 197.21,376.41 198.04,376.36 198.88,375.56 199.72,376.75 200.56,376.86 201.39,376.8 202.23,376.88 203.07,376.73 203.91,376.44 204.74,375.56 205.58,376.67 206.42,376.83 207.26,376.76 208.09,376.94 208.93,376.91 209.77,376.49 210.61,376.13 211.44,376.64 212.28,376.7 213.12,376.9 213.96,376.72 214.79,376.65 215.63,376.7 216.47,376.13 217.31,376.83 218.14,376.92 218.98,377.03 219.82,377.03 220.66,377.02 221.49,376.85 222.33,376.32 223.17,377.01 224.01,377.15 224.84,377.05 225.68,377.09 226.52,376.87 227.36,376.94 228.19,376.32 229.03,376.82 229.87,376.97 230.71,376.95 231.54,376.93 232.38,376.87 233.22,376.85 234.06,376.51 234.89,377.11 235.73,376.97 236.57,377.17 237.41,377.1 238.24,376.94 239.08,376.87 239.92,376.51 240.76,376.99 241.59,376.91 242.43,377.04 243.27,377.09 244.11,377.06 244.94,376.77 245.78,376.51 246.62,376.98 247.46,376.96 248.29,377.11 249.13,377.14 249.97,377.01 250.81,376.85 251.64,376.69 252.48,377.1 253.32,376.97 254.16,376.95 254.99,376.97 255.83,376.92 256.67,377.08 257.51,376.69 258.34,376.97 259.18,376.95 260.02,377.2 260.86,377.09 261.69,377 262.53,376.73 263.37,376.13 264.21,376.92 265.04,377.02 265.88,376.99 266.72,377.18 267.56,377.09 268.39,376.91 269.23,376.32 270.07,377.04 270.91,377.15 271.74,376.94 272.58,376.95 273.42,377.13 274.26,376.94 275.09,376.69 275.93,377.06 276.77,377.1 277.61,377.11 278.44,377.01 279.28,376.99 280.12,376.98 280.96,376.69 281.79,377.09 282.63,377.1 283.47,377.18 284.31,377.04 285.14,376.95 285.98,376.97 286.82,376.69 287.66,377.12 288.49,377.14 289.33,377.11 290.17,377.02 291.01,376.94 291.84,376.97 292.68,376.69 293.52,376.92 294.36,377.01 295.19,377.09 296.03,377.09 296.87,377.02 297.71,376.88 298.54,376.69 299.38,377.03 300.22,376.99 301.06,377.08 301.89,377.13 302.73,377.01 303.57,376.88 304.41,376.69 305.24,377.13 306.08,377.07 306.92,377.09 307.76,376.94 308.59,376.86 309.43,376.91 310.27,376.51 311.11,376.86 311.94,376.96 312.78,377.14 313.62,377.05 314.46,377.09 315.29,376.79 316.13,376.51 316.97,376.92 317.81,376.93 318.64,376.99 319.48,377.01 320.32,376.95 321.16,376.92 321.99,376.69 322.83,377.12 323.67,377.02 324.51,377.21 325.34,377.15 326.18,376.94 327.02,377.07 327.86,376.69 328.69,377.12 329.53,377.16 330.37,376.96 331.21,377.15 332.04,377.18 332.88,376.91 333.72,376.88 334.56,377.15 335.39,344.39" fill="none" stroke="#7f7f7f" stroke-width="1.3" stroke-linejoin="round" stroke-linecap="butt"/>
<path d="M215.8 281.9H228" stroke="#5a5a5a" stroke-width="1.0" fill="none"/>
<text class="lg" x="228.5" y="284.9" textLength="63.5" lengthAdjust="spacing">0.1-0.39 mmol/L</text>
<text class="L" transform="translate(321.2 228.65) scale(0.84 1)" text-anchor="middle">C</text>
</g>
<g>
<path d="M376 207.45V377.45H683.84" fill="none" stroke="#cdcdcd" stroke-width="0.75"/>
<text class="t" x="370.5" y="379.3" text-anchor="end">0%</text>
<text class="t" x="370.5" y="350.97" text-anchor="end">1%</text>
<text class="t" x="370.5" y="322.63" text-anchor="end">2%</text>
<text class="t" x="370.5" y="294.3" text-anchor="end">3%</text>
<text class="t" x="370.5" y="265.97" text-anchor="end">4%</text>
<text class="t" x="370.5" y="237.63" text-anchor="end">5%</text>
<text class="t" x="370.5" y="209.3" text-anchor="end">6%</text>
<path d="M373.7 377.45H376M373.7 349.12H376M373.7 320.78H376M373.7 292.45H376M373.7 264.12H376M373.7 235.78H376M373.7 207.45H376M376 377.45V379.75M381.87 377.45V379.75M387.74 377.45V379.75M393.61 377.45V379.75M399.49 377.45V379.75M405.36 377.45V379.75M411.23 377.45V379.75M417.1 377.45V379.75M422.97 377.45V379.75M428.84 377.45V379.75M434.72 377.45V379.75M440.59 377.45V379.75M446.46 377.45V379.75M452.33 377.45V379.75M458.2 377.45V379.75M464.07 377.45V379.75M469.95 377.45V379.75M475.82 377.45V379.75M481.69 377.45V379.75M487.56 377.45V379.75M493.43 377.45V379.75M499.3 377.45V379.75M505.18 377.45V379.75M511.05 377.45V379.75M516.92 377.45V379.75M522.79 377.45V379.75M528.66 377.45V379.75M534.53 377.45V379.75M540.4 377.45V379.75M546.28 377.45V379.75M552.15 377.45V379.75M558.02 377.45V379.75M563.89 377.45V379.75M569.76 377.45V379.75M575.63 377.45V379.75M581.51 377.45V379.75M587.38 377.45V379.75M593.25 377.45V379.75M599.12 377.45V379.75M604.99 377.45V379.75M610.86 377.45V379.75M616.74 377.45V379.75M622.61 377.45V379.75M628.48 377.45V379.75M634.35 377.45V379.75M640.22 377.45V379.75M646.09 377.45V379.75M651.97 377.45V379.75M657.84 377.45V379.75M663.71 377.45V379.75M669.58 377.45V379.75M675.45 377.45V379.75M681.32 377.45V379.75" stroke="#cdcdcd" stroke-width="0.7" fill="none"/>
<text class="x" transform="translate(378.15 380.95) rotate(-90)" text-anchor="end" textLength="21" lengthAdjust="spacingAndGlyphs">Same day</text>
<text class="x" transform="translate(389.89 380.95) rotate(-90)" text-anchor="end">2 weeks</text>
<text class="x" transform="translate(401.64 380.95) rotate(-90)" text-anchor="end">4 weeks</text>
<text class="x" transform="translate(413.38 380.95) rotate(-90)" text-anchor="end">6 weeks</text>
<text class="x" transform="translate(425.12 380.95) rotate(-90)" text-anchor="end">8 weeks</text>
<text class="x" transform="translate(436.87 380.95) rotate(-90)" text-anchor="end">10 weeks</text>
<text class="x" transform="translate(448.61 380.95) rotate(-90)" text-anchor="end">12 weeks</text>
<text class="x" transform="translate(460.35 380.95) rotate(-90)" text-anchor="end">14 weeks</text>
<text class="x" transform="translate(472.1 380.95) rotate(-90)" text-anchor="end">16 weeks</text>
<text class="x" transform="translate(483.84 380.95) rotate(-90)" text-anchor="end">18 weeks</text>
<text class="x" transform="translate(495.58 380.95) rotate(-90)" text-anchor="end">20 weeks</text>
<text class="x" transform="translate(507.33 380.95) rotate(-90)" text-anchor="end">22 weeks</text>
<text class="x" transform="translate(519.07 380.95) rotate(-90)" text-anchor="end">24 weeks</text>
<text class="x" transform="translate(530.81 380.95) rotate(-90)" text-anchor="end">26 weeks</text>
<text class="x" transform="translate(542.55 380.95) rotate(-90)" text-anchor="end">28 weeks</text>
<text class="x" transform="translate(554.3 380.95) rotate(-90)" text-anchor="end">30 weeks</text>
<text class="x" transform="translate(566.04 380.95) rotate(-90)" text-anchor="end">32 weeks</text>
<text class="x" transform="translate(577.78 380.95) rotate(-90)" text-anchor="end">34 weeks</text>
<text class="x" transform="translate(589.53 380.95) rotate(-90)" text-anchor="end">36 weeks</text>
<text class="x" transform="translate(601.27 380.95) rotate(-90)" text-anchor="end">38 weeks</text>
<text class="x" transform="translate(613.01 380.95) rotate(-90)" text-anchor="end">40 weeks</text>
<text class="x" transform="translate(624.76 380.95) rotate(-90)" text-anchor="end">42 weeks</text>
<text class="x" transform="translate(636.5 380.95) rotate(-90)" text-anchor="end">44 weeks</text>
<text class="x" transform="translate(648.24 380.95) rotate(-90)" text-anchor="end">46 weeks</text>
<text class="x" transform="translate(659.99 380.95) rotate(-90)" text-anchor="end">48 weeks</text>
<text class="x" transform="translate(671.73 380.95) rotate(-90)" text-anchor="end">50 weeks</text>
<text class="x" transform="translate(683.47 380.95) rotate(-90)" text-anchor="end">52 weeks</text>
<text class="b" transform="translate(352.6 293.85) rotate(-90)" text-anchor="middle" textLength="54.4" lengthAdjust="spacingAndGlyphs">Percentage of requests</text>
<text class="b" x="529.8" y="409" text-anchor="middle" textLength="54.2" lengthAdjust="spacingAndGlyphs">Interval until next test</text>
<clipPath id="cpD"><rect x="373" y="201.45" width="313.84" height="176.2"/></clipPath>
<polyline clip-path="url(#cpD)" points="376.42,369.8 377.26,358.47 378.1,363.28 378.94,362.43 379.77,365.55 380.61,363.28 381.45,353.37 382.29,283.38 383.13,351.95 383.97,359.88 384.81,361.02 385.65,360.45 386.49,363.28 387.32,359.03 388.16,340.62 389,363.13 389.84,366.61 390.68,366.8 391.52,366.69 392.36,368.43 393.2,366.82 394.03,357.62 394.87,367.49 395.71,366.49 396.55,367.52 397.39,369.49 398.23,366.13 399.07,365.4 399.91,336.37 400.74,363.2 401.58,368 402.42,370.01 403.26,367.17 404.1,368.82 404.94,367.65 405.78,355.63 406.62,366.06 407.45,367.76 408.29,370.12 409.13,368.2 409.97,368.94 410.81,367.5 411.65,357.9 412.49,369.88 413.33,369.56 414.17,370.79 415,370.17 415.84,369.88 416.68,370.19 417.52,359.88 418.36,369.37 419.2,370.93 420.04,371.52 420.88,371.71 421.71,370.58 422.55,368.59 423.39,356.77 424.23,369.4 425.07,368.95 425.91,370.51 426.75,370.59 427.59,368.57 428.43,367.96 429.26,353.37 430.1,367.62 430.94,368.76 431.78,368.93 432.62,370.78 433.46,367.38 434.3,368.34 435.14,349.97 435.97,364.81 436.81,366.34 437.65,369.96 438.49,367.44 439.33,367.8 440.17,364.81 441.01,342.88 441.85,364.63 442.68,366.8 443.52,367.42 444.36,364.26 445.2,361.81 446.04,347.06 446.88,227.57 447.72,340.17 448.56,353.61 449.39,363.54 450.23,363.49 451.07,357.87 451.91,345.93 452.75,244.85 453.59,347.12 454.43,355.51 455.27,361.14 456.11,360.81 456.94,363.3 457.78,354.27 458.62,315.97 459.46,360.26 460.3,364.26 461.14,365.66 461.98,364.41 462.82,365.91 463.65,361.59 464.49,344.58 465.33,363.44 466.17,366.56 467.01,367.66 467.85,368.18 468.69,367.66 469.53,365.38 470.37,344.58 471.2,363.73 472.04,365.65 472.88,369.74 473.72,369.63 474.56,365.73 475.4,365.29 476.24,359.32 477.08,368.39 477.91,370.13 478.75,369.83 479.59,368.71 480.43,368.67 481.27,366.72 482.11,359.88 482.95,369.99 483.79,369.29 484.62,372.03 485.46,370.37 486.3,368.4 487.14,367.73 487.98,359.32 488.82,369.07 489.66,370.12 490.5,371.52 491.33,370.73 492.17,371.18 493.01,368.64 493.85,362.43 494.69,371.6 495.53,371.73 496.37,373.25 497.21,372.71 498.05,371.25 498.88,370.36 499.72,367.25 500.56,371.68 501.4,373.18 502.24,373.5 503.08,372.69 503.92,372.11 504.76,370.51 505.59,364.13 506.43,372.16 507.27,373.66 508.11,373.93 508.95,372.68 509.79,371.84 510.63,370.52 511.47,364.98 512.31,372.65 513.14,373.95 513.98,374.79 514.82,373.94 515.66,372.06 516.5,369.36 517.34,361.3 518.18,372.36 519.02,373.53 519.85,374.34 520.69,374.11 521.53,373.51 522.37,372.17 523.21,368.38 524.05,374.07 524.89,374.61 525.73,375.36 526.56,374.86 527.4,373.94 528.24,372.65 529.08,368.38 529.92,374.13 530.76,374.41 531.6,375.06 532.44,374.89 533.27,374.9 534.11,373.56 534.95,370.65 535.79,374.88 536.63,375.2 537.47,375.63 538.31,375.09 539.15,374.6 539.99,373.28 540.82,369.52 541.66,374.94 542.5,375.57 543.34,375.91 544.18,375.75 545.02,375.77 545.86,375.07 546.7,373.77 547.53,375.57 548.37,375.94 549.21,375.96 550.05,375.8 550.89,375.68 551.73,375.02 552.57,372.92 553.41,375.74 554.25,375.82 555.08,375.97 555.92,376.11 556.76,375.85 557.6,375.53 558.44,374.62 559.28,375.92 560.12,376.35 560.96,376.2 561.79,376.2 562.63,375.99 563.47,375.75 564.31,374.62 565.15,375.96 565.99,376.1 566.83,376.26 567.67,376.09 568.5,376.08 569.34,375.46 570.18,373.48 571.02,375.83 571.86,376.09 572.7,376.43 573.54,376.16 574.38,376.01 575.22,375.91 576.05,374.62 576.89,376.02 577.73,376.33 578.57,376.5 579.41,376.37 580.25,376.09 581.09,375.75 581.93,374.33 582.76,376.19 583.6,376.5 584.44,376.47 585.28,376.42 586.12,376.18 586.96,375.88 587.8,374.9 588.64,376.37 589.47,376.37 590.31,376.75 591.15,376.53 591.99,376.37 592.83,375.93 593.67,374.62 594.51,376.36 595.35,376.38 596.18,376.64 597.02,376.67 597.86,376.35 598.7,376.23 599.54,375.18 600.38,376.33 601.22,376.56 602.06,376.58 602.9,376.37 603.73,376.25 604.57,376.03 605.41,374.9 606.25,376.2 607.09,376.45 607.93,376.64 608.77,376.65 609.61,376.4 610.44,376.18 611.28,375.47 612.12,376.26 612.96,376.39 613.8,376.57 614.64,376.56 615.48,376.22 616.32,376.16 617.15,374.9 617.99,376.41 618.83,376.48 619.67,376.56 620.51,376.68 621.35,376.48 622.19,376.28 623.03,376.03 623.87,376.65 624.7,376.72 625.54,376.83 626.38,376.77 627.22,376.49 628.06,376.53 628.9,376.03 629.74,376.47 630.58,376.57 631.41,376.71 632.25,376.78 633.09,376.49 633.93,376.49 634.77,376.03 635.61,376.64 636.45,376.75 637.29,376.59 638.12,376.71 638.96,376.7 639.8,376.5 640.64,376.03 641.48,376.73 642.32,376.66 643.16,376.76 644,376.77 644.84,376.55 645.67,376.39 646.51,376.03 647.35,376.76 648.19,376.69 649.03,376.81 649.87,376.57 650.71,376.55 651.55,376.57 652.38,376.03 653.22,376.69 654.06,376.8 654.9,376.59 655.74,376.74 656.58,376.52 657.42,376.3 658.26,375.47 659.1,376.47 659.93,376.63 660.77,376.67 661.61,376.81 662.45,376.51 663.29,376.46 664.13,375.75 664.97,376.55 665.81,376.73 666.64,376.8 667.48,376.68 668.32,376.6 669.16,376.44 670,375.75 670.84,376.49 671.68,376.65 672.52,376.88 673.35,376.74 674.19,376.52 675.03,376.07 675.87,375.18 676.71,376.34 677.55,376.63 678.39,376.89 679.23,376.65 680.07,376.74 680.9,376.67 681.74,376.6 682.58,376.77 683.42,320.5" fill="none" stroke="#7f7f7f" stroke-width="1.3" stroke-linejoin="round" stroke-linecap="butt"/>
<path d="M560.2 281.9H572.2" stroke="#5a5a5a" stroke-width="1.0" fill="none"/>
<text class="lg" x="572.7" y="284.9" textLength="63.9" lengthAdjust="spacing">0.4-0.59 mmol/L</text>
<text class="L" transform="translate(665.15 228.45) scale(0.97 1)" text-anchor="middle">D</text>
</g>
<g>
<path d="M28.45 411.3V581.3H335.81" fill="none" stroke="#cdcdcd" stroke-width="0.75"/>
<text class="t" x="22.95" y="583.15" text-anchor="end">0%</text>
<text class="t" x="22.95" y="558.86" text-anchor="end">1%</text>
<text class="t" x="22.95" y="534.58" text-anchor="end">2%</text>
<text class="t" x="22.95" y="510.29" text-anchor="end">3%</text>
<text class="t" x="22.95" y="486.01" text-anchor="end">4%</text>
<text class="t" x="22.95" y="461.72" text-anchor="end">5%</text>
<text class="t" x="22.95" y="437.44" text-anchor="end">6%</text>
<text class="t" x="22.95" y="413.15" text-anchor="end">7%</text>
<path d="M26.15 581.3H28.45M26.15 557.01H28.45M26.15 532.73H28.45M26.15 508.44H28.45M26.15 484.16H28.45M26.15 459.87H28.45M26.15 435.59H28.45M26.15 411.3H28.45M28.45 581.3V583.6M34.31 581.3V583.6M40.17 581.3V583.6M46.04 581.3V583.6M51.9 581.3V583.6M57.76 581.3V583.6M63.62 581.3V583.6M69.49 581.3V583.6M75.35 581.3V583.6M81.21 581.3V583.6M87.08 581.3V583.6M92.94 581.3V583.6M98.8 581.3V583.6M104.66 581.3V583.6M110.53 581.3V583.6M116.39 581.3V583.6M122.25 581.3V583.6M128.11 581.3V583.6M133.97 581.3V583.6M139.84 581.3V583.6M145.7 581.3V583.6M151.56 581.3V583.6M157.42 581.3V583.6M163.29 581.3V583.6M169.15 581.3V583.6M175.01 581.3V583.6M180.88 581.3V583.6M186.74 581.3V583.6M192.6 581.3V583.6M198.46 581.3V583.6M204.32 581.3V583.6M210.19 581.3V583.6M216.05 581.3V583.6M221.91 581.3V583.6M227.78 581.3V583.6M233.64 581.3V583.6M239.5 581.3V583.6M245.36 581.3V583.6M251.22 581.3V583.6M257.09 581.3V583.6M262.95 581.3V583.6M268.81 581.3V583.6M274.68 581.3V583.6M280.54 581.3V583.6M286.4 581.3V583.6M292.26 581.3V583.6M298.12 581.3V583.6M303.99 581.3V583.6M309.85 581.3V583.6M315.71 581.3V583.6M321.57 581.3V583.6M327.44 581.3V583.6M333.3 581.3V583.6" stroke="#cdcdcd" stroke-width="0.7" fill="none"/>
<text class="x" transform="translate(30.6 584.8) rotate(-90)" text-anchor="end" textLength="21" lengthAdjust="spacingAndGlyphs">Same day</text>
<text class="x" transform="translate(42.32 584.8) rotate(-90)" text-anchor="end">2 weeks</text>
<text class="x" transform="translate(54.05 584.8) rotate(-90)" text-anchor="end">4 weeks</text>
<text class="x" transform="translate(65.78 584.8) rotate(-90)" text-anchor="end">6 weeks</text>
<text class="x" transform="translate(77.5 584.8) rotate(-90)" text-anchor="end">8 weeks</text>
<text class="x" transform="translate(89.23 584.8) rotate(-90)" text-anchor="end">10 weeks</text>
<text class="x" transform="translate(100.95 584.8) rotate(-90)" text-anchor="end">12 weeks</text>
<text class="x" transform="translate(112.68 584.8) rotate(-90)" text-anchor="end">14 weeks</text>
<text class="x" transform="translate(124.4 584.8) rotate(-90)" text-anchor="end">16 weeks</text>
<text class="x" transform="translate(136.12 584.8) rotate(-90)" text-anchor="end">18 weeks</text>
<text class="x" transform="translate(147.85 584.8) rotate(-90)" text-anchor="end">20 weeks</text>
<text class="x" transform="translate(159.57 584.8) rotate(-90)" text-anchor="end">22 weeks</text>
<text class="x" transform="translate(171.3 584.8) rotate(-90)" text-anchor="end">24 weeks</text>
<text class="x" transform="translate(183.03 584.8) rotate(-90)" text-anchor="end">26 weeks</text>
<text class="x" transform="translate(194.75 584.8) rotate(-90)" text-anchor="end">28 weeks</text>
<text class="x" transform="translate(206.47 584.8) rotate(-90)" text-anchor="end">30 weeks</text>
<text class="x" transform="translate(218.2 584.8) rotate(-90)" text-anchor="end">32 weeks</text>
<text class="x" transform="translate(229.93 584.8) rotate(-90)" text-anchor="end">34 weeks</text>
<text class="x" transform="translate(241.65 584.8) rotate(-90)" text-anchor="end">36 weeks</text>
<text class="x" transform="translate(253.38 584.8) rotate(-90)" text-anchor="end">38 weeks</text>
<text class="x" transform="translate(265.1 584.8) rotate(-90)" text-anchor="end">40 weeks</text>
<text class="x" transform="translate(276.82 584.8) rotate(-90)" text-anchor="end">42 weeks</text>
<text class="x" transform="translate(288.55 584.8) rotate(-90)" text-anchor="end">44 weeks</text>
<text class="x" transform="translate(300.27 584.8) rotate(-90)" text-anchor="end">46 weeks</text>
<text class="x" transform="translate(312 584.8) rotate(-90)" text-anchor="end">48 weeks</text>
<text class="x" transform="translate(323.72 584.8) rotate(-90)" text-anchor="end">50 weeks</text>
<text class="x" transform="translate(335.45 584.8) rotate(-90)" text-anchor="end">52 weeks</text>
<text class="b" transform="translate(5.05 497.7) rotate(-90)" text-anchor="middle" textLength="54.4" lengthAdjust="spacingAndGlyphs">Percentage of requests</text>
<text class="b" x="182.25" y="612.85" text-anchor="middle" textLength="54.2" lengthAdjust="spacingAndGlyphs">Interval until next test</text>
<clipPath id="cpE"><rect x="25.45" y="405.3" width="313.36" height="176.2"/></clipPath>
<polyline clip-path="url(#cpE)" points="28.87,571.1 29.71,567.21 30.54,571.1 31.38,571.59 32.22,571.59 33.06,571.1 33.89,566.73 34.73,532.73 35.57,568.05 36.41,571.24 37.24,574.18 38.08,573.41 38.92,573.13 39.76,570.88 40.59,548.76 41.43,570.56 42.27,572.43 43.11,574.89 43.94,574.72 44.78,573.76 45.62,572.58 46.46,567.21 47.29,573.49 48.13,574.53 48.97,573.99 49.81,575.46 50.64,573.06 51.48,571.44 52.32,546.81 53.16,571.11 53.99,573.95 54.83,575.04 55.67,574.25 56.51,574.72 57.34,572.91 58.18,561.63 59.02,572.07 59.86,574.96 60.69,575.4 61.53,576.08 62.37,575.65 63.21,574.46 64.04,564.54 64.88,573.8 65.72,575.25 66.56,575.96 67.39,575.6 68.23,575.44 69.07,574.88 69.91,567.21 70.74,574.27 71.58,575.26 72.42,576.29 73.26,575.86 74.09,575.54 74.93,574.21 75.77,566.24 76.61,573.55 77.44,575.09 78.28,574.53 79.12,575.79 79.96,574.73 80.79,572.83 81.63,559.69 82.47,572.85 83.31,573.78 84.14,575.25 84.98,574.23 85.82,573.33 86.66,571.98 87.49,556.04 88.33,570.66 89.17,573.44 90.01,573.67 90.84,573.85 91.68,572.7 92.52,570.27 93.36,544.63 94.19,566.75 95.03,569.2 95.87,571.65 96.71,571.2 97.54,567.17 98.38,553.44 99.22,435.59 100.06,547.62 100.89,559.74 101.73,566.91 102.57,568.63 103.41,563.93 104.24,553.16 105.08,458.41 105.92,553.4 106.76,563.05 107.59,569.45 108.43,569.61 109.27,567.94 110.11,561.57 110.94,522.04 111.78,564.65 112.62,569.26 113.46,571.37 114.29,570.19 115.13,571.17 115.97,568.13 116.81,547.3 117.64,568.46 118.48,570.24 119.32,571.63 120.16,571.53 120.99,572.08 121.83,570.19 122.67,554.59 123.51,570.19 124.34,571.42 125.18,572.41 126.02,573.07 126.86,571.25 127.69,567.6 128.53,555.56 129.37,571.34 130.21,573.16 131.04,574.11 131.88,573.93 132.72,572.91 133.56,569.29 134.39,559.69 135.23,572.43 136.07,573.97 136.91,574.3 137.74,574.25 138.58,573.61 139.42,571.66 140.26,566 141.09,573.52 141.93,575.53 142.77,574.91 143.61,574.61 144.44,573.53 145.28,571.74 146.12,566 146.96,574.69 147.79,575.93 148.63,576.91 149.47,575.89 150.31,575.75 151.14,574.14 151.98,568.43 152.82,575.7 153.66,576.77 154.49,577.1 155.33,576.96 156.17,576.14 157.01,574.23 157.84,568.19 158.68,575.77 159.52,576.55 160.36,577.43 161.19,576.21 162.03,575.83 162.87,575 163.71,570.37 164.54,576.56 165.38,577.35 166.22,577.78 167.06,577.49 167.89,575.86 168.73,573.74 169.57,567.7 170.41,576.29 171.24,577.53 172.08,578.46 172.92,578.09 173.76,577.21 174.59,575.86 175.43,571.1 176.27,577.06 177.11,578.39 177.94,578.93 178.78,578.08 179.62,577.85 180.46,577.07 181.29,573.53 182.13,578.09 182.97,579.03 183.81,579.1 184.64,578.54 185.48,577.94 186.32,576.72 187.16,572.56 187.99,578.43 188.83,579.23 189.67,579.74 190.51,579.28 191.34,578.97 192.18,578.04 193.02,575.47 193.86,579.21 194.69,579.78 195.53,579.86 196.37,579.62 197.21,579.29 198.04,578.55 198.88,576.2 199.72,579.18 200.56,579.66 201.39,580.05 202.23,579.75 203.07,579.37 203.91,578.63 204.74,575.71 205.58,579.44 206.42,579.89 207.26,580.16 208.09,579.96 208.93,579.73 209.77,579.59 210.61,578.63 211.44,579.92 212.28,580.11 213.12,580.22 213.96,580.24 214.79,580.03 215.63,579.54 216.47,577.9 217.31,579.96 218.14,580.25 218.98,580.3 219.82,580.15 220.66,579.99 221.49,579.74 222.33,578.63 223.17,579.99 224.01,580.16 224.84,580.43 225.68,580.17 226.52,579.87 227.36,579.41 228.19,577.9 229.03,579.83 229.87,580.19 230.71,580.4 231.54,580.18 232.38,580.11 233.22,579.66 234.06,578.63 234.89,579.91 235.73,580.25 236.57,580.35 237.41,580.14 238.24,580.02 239.08,579.81 239.92,578.63 240.76,580.2 241.59,580.41 242.43,580.37 243.27,580.28 244.11,580.21 244.94,579.66 245.78,578.39 246.62,579.98 247.46,580.29 248.29,580.48 249.13,580.36 249.97,580.29 250.81,580 251.64,578.87 252.48,580.18 253.32,580.44 254.16,580.57 254.99,580.4 255.83,580.29 256.67,579.83 257.51,578.63 258.34,580.16 259.18,580.51 260.02,580.61 260.86,580.55 261.69,580.43 262.53,580.13 263.37,579.36 264.21,580.39 265.04,580.51 265.88,580.64 266.72,580.43 267.56,580.38 268.39,580.07 269.23,579.11 270.07,580.29 270.91,580.41 271.74,580.59 272.58,580.41 273.42,580.32 274.26,579.97 275.09,578.87 275.93,580.26 276.77,580.55 277.61,580.58 278.44,580.59 279.28,580.55 280.12,580.26 280.96,579.84 281.79,580.6 282.63,580.65 283.47,580.65 284.31,580.63 285.14,580.56 285.98,580.31 286.82,579.6 287.66,580.49 288.49,580.58 289.33,580.76 290.17,580.64 291.01,580.61 291.84,580.43 292.68,579.84 293.52,580.49 294.36,580.64 295.19,580.68 296.03,580.6 296.87,580.49 297.71,580.41 298.54,579.84 299.38,580.52 300.22,580.64 301.06,580.69 301.89,580.6 302.73,580.54 303.57,580.3 304.41,579.6 305.24,580.5 306.08,580.55 306.92,580.66 307.76,580.6 308.59,580.52 309.43,580.52 310.27,580.09 311.11,580.57 311.94,580.58 312.78,580.63 313.62,580.73 314.46,580.67 315.29,580.49 316.13,580.09 316.97,580.66 317.81,580.7 318.64,580.77 319.48,580.63 320.32,580.55 321.16,580.41 321.99,580.09 322.83,580.64 323.67,580.62 324.51,580.66 325.34,580.71 326.18,580.5 327.02,580.31 327.86,579.84 328.69,580.59 329.53,580.56 330.37,580.71 331.21,580.69 332.04,580.59 332.88,580.59 333.72,580.57 334.56,580.83 335.39,537.1" fill="none" stroke="#7f7f7f" stroke-width="1.3" stroke-linejoin="round" stroke-linecap="butt"/>
<path d="M220.1 485.9H232.1" stroke="#8c8c8c" stroke-width="1.4" fill="none"/>
<text class="lg" x="232.6" y="488.9" textLength="63.8" lengthAdjust="spacing">0.6-0.79 mmol/L</text>
<text class="L" transform="translate(321.2 432.65) scale(0.745 1)" text-anchor="middle">E</text>
</g>
<g>
<path d="M376 411.3V581.3H683.84" fill="none" stroke="#cdcdcd" stroke-width="0.75"/>
<text class="t" x="370.5" y="583.15" text-anchor="end">0%</text>
<text class="t" x="370.5" y="554.82" text-anchor="end">1%</text>
<text class="t" x="370.5" y="526.48" text-anchor="end">2%</text>
<text class="t" x="370.5" y="498.15" text-anchor="end">3%</text>
<text class="t" x="370.5" y="469.82" text-anchor="end">4%</text>
<text class="t" x="370.5" y="441.48" text-anchor="end">5%</text>
<text class="t" x="370.5" y="413.15" text-anchor="end">6%</text>
<path d="M373.7 581.3H376M373.7 552.97H376M373.7 524.63H376M373.7 496.3H376M373.7 467.97H376M373.7 439.63H376M373.7 411.3H376M376 581.3V583.6M381.87 581.3V583.6M387.74 581.3V583.6M393.61 581.3V583.6M399.49 581.3V583.6M405.36 581.3V583.6M411.23 581.3V583.6M417.1 581.3V583.6M422.97 581.3V583.6M428.84 581.3V583.6M434.72 581.3V583.6M440.59 581.3V583.6M446.46 581.3V583.6M452.33 581.3V583.6M458.2 581.3V583.6M464.07 581.3V583.6M469.95 581.3V583.6M475.82 581.3V583.6M481.69 581.3V583.6M487.56 581.3V583.6M493.43 581.3V583.6M499.3 581.3V583.6M505.18 581.3V583.6M511.05 581.3V583.6M516.92 581.3V583.6M522.79 581.3V583.6M528.66 581.3V583.6M534.53 581.3V583.6M540.4 581.3V583.6M546.28 581.3V583.6M552.15 581.3V583.6M558.02 581.3V583.6M563.89 581.3V583.6M569.76 581.3V583.6M575.63 581.3V583.6M581.51 581.3V583.6M587.38 581.3V583.6M593.25 581.3V583.6M599.12 581.3V583.6M604.99 581.3V583.6M610.86 581.3V583.6M616.74 581.3V583.6M622.61 581.3V583.6M628.48 581.3V583.6M634.35 581.3V583.6M640.22 581.3V583.6M646.09 581.3V583.6M651.97 581.3V583.6M657.84 581.3V583.6M663.71 581.3V583.6M669.58 581.3V583.6M675.45 581.3V583.6M681.32 581.3V583.6" stroke="#cdcdcd" stroke-width="0.7" fill="none"/>
<text class="x" transform="translate(378.15 584.8) rotate(-90)" text-anchor="end" textLength="21" lengthAdjust="spacingAndGlyphs">Same day</text>
<text class="x" transform="translate(389.89 584.8) rotate(-90)" text-anchor="end">2 weeks</text>
<text class="x" transform="translate(401.64 584.8) rotate(-90)" text-anchor="end">4 weeks</text>
<text class="x" transform="translate(413.38 584.8) rotate(-90)" text-anchor="end">6 weeks</text>
<text class="x" transform="translate(425.12 584.8) rotate(-90)" text-anchor="end">8 weeks</text>
<text class="x" transform="translate(436.87 584.8) rotate(-90)" text-anchor="end">10 weeks</text>
<text class="x" transform="translate(448.61 584.8) rotate(-90)" text-anchor="end">12 weeks</text>
<text class="x" transform="translate(460.35 584.8) rotate(-90)" text-anchor="end">14 weeks</text>
<text class="x" transform="translate(472.1 584.8) rotate(-90)" text-anchor="end">16 weeks</text>
<text class="x" transform="translate(483.84 584.8) rotate(-90)" text-anchor="end">18 weeks</text>
<text class="x" transform="translate(495.58 584.8) rotate(-90)" text-anchor="end">20 weeks</text>
<text class="x" transform="translate(507.33 584.8) rotate(-90)" text-anchor="end">22 weeks</text>
<text class="x" transform="translate(519.07 584.8) rotate(-90)" text-anchor="end">24 weeks</text>
<text class="x" transform="translate(530.81 584.8) rotate(-90)" text-anchor="end">26 weeks</text>
<text class="x" transform="translate(542.55 584.8) rotate(-90)" text-anchor="end">28 weeks</text>
<text class="x" transform="translate(554.3 584.8) rotate(-90)" text-anchor="end">30 weeks</text>
<text class="x" transform="translate(566.04 584.8) rotate(-90)" text-anchor="end">32 weeks</text>
<text class="x" transform="translate(577.78 584.8) rotate(-90)" text-anchor="end">34 weeks</text>
<text class="x" transform="translate(589.53 584.8) rotate(-90)" text-anchor="end">36 weeks</text>
<text class="x" transform="translate(601.27 584.8) rotate(-90)" text-anchor="end">38 weeks</text>
<text class="x" transform="translate(613.01 584.8) rotate(-90)" text-anchor="end">40 weeks</text>
<text class="x" transform="translate(624.76 584.8) rotate(-90)" text-anchor="end">42 weeks</text>
<text class="x" transform="translate(636.5 584.8) rotate(-90)" text-anchor="end">44 weeks</text>
<text class="x" transform="translate(648.24 584.8) rotate(-90)" text-anchor="end">46 weeks</text>
<text class="x" transform="translate(659.99 584.8) rotate(-90)" text-anchor="end">48 weeks</text>
<text class="x" transform="translate(671.73 584.8) rotate(-90)" text-anchor="end">50 weeks</text>
<text class="x" transform="translate(683.47 584.8) rotate(-90)" text-anchor="end">52 weeks</text>
<text class="b" transform="translate(352.6 497.7) rotate(-90)" text-anchor="middle" textLength="54.4" lengthAdjust="spacingAndGlyphs">Percentage of requests</text>
<text class="b" x="529.8" y="612.85" text-anchor="middle" textLength="54.2" lengthAdjust="spacingAndGlyphs">Interval until next test</text>
<clipPath id="cpF"><rect x="373" y="405.3" width="313.84" height="176.2"/></clipPath>
<polyline clip-path="url(#cpF)" points="376.42,567.7 377.26,548.72 378.1,557.78 378.94,560.33 379.77,559.77 380.61,557.78 381.45,552.4 382.29,492.33 383.13,560.05 383.97,569.97 384.81,558.92 385.65,565.72 386.49,563.73 387.32,558.63 388.16,534.27 389,566.85 389.84,566.22 390.68,568.74 391.52,572.87 392.36,566.2 393.2,564.73 394.03,552.4 394.87,568.28 395.71,570.65 396.55,573.97 397.39,574.7 398.23,570.57 399.07,569.53 399.91,534.27 400.74,567.35 401.58,571.19 402.42,574.2 403.26,571.86 404.1,571.36 404.94,567.79 405.78,556.08 406.62,570.52 407.45,571.1 408.29,573.37 409.13,572.64 409.97,573.05 410.81,572.69 411.65,560.62 412.49,570.38 413.33,571.92 414.17,573.2 415,573.71 415.84,574.89 416.68,574.5 417.52,566.57 418.36,575.26 419.2,576.95 420.04,575.44 420.88,576.48 421.71,574.5 422.55,574.2 423.39,558.35 424.23,568.93 425.07,571.1 425.91,571.95 426.75,574.66 427.59,571.26 428.43,572.58 429.26,566.28 430.1,570.1 430.94,573.47 431.78,575.26 432.62,572.79 433.46,571.34 434.3,571.81 435.14,553.53 435.97,571.68 436.81,572.63 437.65,570.59 438.49,571.57 439.33,573.34 440.17,569.85 441.01,540.78 441.85,568.18 442.68,571.7 443.52,568.74 444.36,572.48 445.2,564.89 446.04,553.69 446.88,438.5 447.72,549.76 448.56,560.09 449.39,570.96 450.23,567.22 451.07,566.53 451.91,554.11 452.75,454.93 453.59,552.23 454.43,564.28 455.27,564.83 456.11,566.05 456.94,568.11 457.78,560.3 458.62,528.6 459.46,565.95 460.3,569.58 461.14,569.08 461.98,570.29 462.82,572.19 463.65,564.44 464.49,541.35 465.33,568.56 466.17,571.69 467.01,570.52 467.85,572.85 468.69,572.17 469.53,571.42 470.37,550.7 471.2,571.61 472.04,572.48 472.88,575.24 473.72,573.02 474.56,572.35 475.4,568.85 476.24,558.35 477.08,570.45 477.91,574.12 478.75,574.81 479.59,572.88 480.43,573.45 481.27,569.93 482.11,556.93 482.95,571.57 483.79,574.14 484.62,576.92 485.46,576.51 486.3,573.77 487.14,570.88 487.98,564.58 488.82,575.53 489.66,575.23 490.5,576.14 491.33,576.25 492.17,575.58 493.01,574.13 493.85,566 494.69,576.64 495.53,576.31 496.37,578.4 497.21,577 498.05,576.83 498.88,573.71 499.72,567.7 500.56,576.62 501.4,578.38 502.24,579.21 503.08,578.02 503.92,578.13 504.76,576.26 505.59,570.53 506.43,577.43 507.27,578.08 508.11,578.89 508.95,578.67 509.79,576.59 510.63,574.95 511.47,566.28 512.31,577.66 513.14,579.02 513.98,579.65 514.82,579.51 515.66,578.38 516.5,576.15 517.34,569.4 518.18,576.72 519.02,578.51 519.85,578.69 520.69,577.35 521.53,576.22 522.37,574.75 523.21,568.55 524.05,577.43 524.89,578.86 525.73,579.94 526.56,579.73 527.4,579.12 528.24,577.03 529.08,573.37 529.92,578.29 530.76,578.79 531.6,580.06 532.44,579.33 533.27,579.19 534.11,578.39 534.95,576.77 535.79,579.26 536.63,578.95 537.47,580 538.31,579.24 539.15,578.44 539.99,577.04 540.82,573.37 541.66,578.25 542.5,579.03 543.34,579.32 544.18,578.96 545.02,579.02 545.86,577.74 546.7,574.78 547.53,578.65 548.37,579.28 549.21,579.95 550.05,579.53 550.89,579.21 551.73,578.93 552.57,577.33 553.41,579.58 554.25,580.07 555.08,580.11 555.92,579.93 556.76,579.92 557.6,578.89 558.44,576.77 559.28,579.24 560.12,579.72 560.96,580.02 561.79,580.18 562.63,579.85 563.47,579.72 564.31,579.03 565.15,580 565.99,579.88 566.83,580.43 567.67,579.82 568.5,579.91 569.34,578.81 570.18,576.48 571.02,579.52 571.86,580.12 572.7,580.04 573.54,580.07 574.38,579.8 575.22,579.21 576.05,578.18 576.89,579.96 577.73,580.36 578.57,580.29 579.41,580 580.25,580.19 581.09,579.98 581.93,579.03 582.76,579.71 583.6,580 584.44,580.2 585.28,579.85 586.12,580.06 586.96,579.57 587.8,578.75 588.64,580.1 589.47,580.13 590.31,579.97 591.15,579.83 591.99,579.71 592.83,579.74 593.67,578.75 594.51,579.86 595.35,580.2 596.18,580.4 597.02,580.11 597.86,579.78 598.7,579.55 599.54,579.03 600.38,579.96 601.22,579.98 602.06,580.43 602.9,580.41 603.73,580.1 604.57,579.89 605.41,578.75 606.25,580.19 607.09,580.26 607.93,580.24 608.77,580.28 609.61,580.3 610.44,579.87 611.28,579.6 612.12,580.07 612.96,580.42 613.8,580.65 614.64,580.59 615.48,580.02 616.32,580.07 617.15,578.75 617.99,580.04 618.83,580.31 619.67,580.54 620.51,580.27 621.35,580.55 622.19,580.33 623.03,579.6 623.87,580.32 624.7,580.63 625.54,580.29 626.38,580.55 627.22,580.54 628.06,580.47 628.9,579.88 629.74,580.29 630.58,580.44 631.41,580.39 632.25,580.33 633.09,580.18 633.93,579.93 634.77,579.6 635.61,580.21 636.45,580.54 637.29,580.46 638.12,580.52 638.96,580.43 639.8,579.87 640.64,578.75 641.48,580.04 642.32,580.5 643.16,580.56 644,580.5 644.84,580.27 645.67,580.24 646.51,579.88 647.35,580.29 648.19,580.29 649.03,580.5 649.87,580.27 650.71,580.13 651.55,580.35 652.38,579.6 653.22,580.09 654.06,580.29 654.9,580.63 655.74,580.43 656.58,580.26 657.42,579.96 658.26,579.6 659.1,580.36 659.93,580.37 660.77,580.27 661.61,580.21 662.45,579.94 663.29,579.77 664.13,578.47 664.97,580.02 665.81,580.47 666.64,580.34 667.48,580.27 668.32,580.3 669.16,580.15 670,579.88 670.84,580.48 671.68,580.23 672.52,580.22 673.35,580.19 674.19,580.35 675.03,580.11 675.87,579.88 676.71,580.43 677.55,580.22 678.39,580.28 679.23,580.52 680.07,580.65 680.9,580.48 681.74,580.45 682.58,580.66 683.42,539.65" fill="none" stroke="#7f7f7f" stroke-width="1.4" stroke-linejoin="round" stroke-linecap="butt"/>
<path d="M567.4 485.9H579.5" stroke="#8c8c8c" stroke-width="1.4" fill="none"/>
<text class="lg" x="580" y="488.9" textLength="64.3" lengthAdjust="spacing">0.8-0.99 mmol/L</text>
<text class="L" transform="translate(665.15 432.65) scale(0.81 1)" text-anchor="middle">F</text>
</g>
<g>
<path d="M28.45 615.45V785.45H335.81" fill="none" stroke="#cdcdcd" stroke-width="0.75"/>
<text class="t" x="22.95" y="787.3" text-anchor="end">0%</text>
<text class="t" x="22.95" y="768.41" text-anchor="end">1%</text>
<text class="t" x="22.95" y="749.52" text-anchor="end">2%</text>
<text class="t" x="22.95" y="730.63" text-anchor="end">3%</text>
<text class="t" x="22.95" y="711.74" text-anchor="end">4%</text>
<text class="t" x="22.95" y="692.86" text-anchor="end">5%</text>
<text class="t" x="22.95" y="673.97" text-anchor="end">6%</text>
<text class="t" x="22.95" y="655.08" text-anchor="end">7%</text>
<text class="t" x="22.95" y="636.19" text-anchor="end">8%</text>
<text class="t" x="22.95" y="617.3" text-anchor="end">9%</text>
<path d="M26.15 785.45H28.45M26.15 766.56H28.45M26.15 747.67H28.45M26.15 728.78H28.45M26.15 709.89H28.45M26.15 691.01H28.45M26.15 672.12H28.45M26.15 653.23H28.45M26.15 634.34H28.45M26.15 615.45H28.45M28.45 785.45V787.75M34.31 785.45V787.75M40.17 785.45V787.75M46.04 785.45V787.75M51.9 785.45V787.75M57.76 785.45V787.75M63.62 785.45V787.75M69.49 785.45V787.75M75.35 785.45V787.75M81.21 785.45V787.75M87.08 785.45V787.75M92.94 785.45V787.75M98.8 785.45V787.75M104.66 785.45V787.75M110.53 785.45V787.75M116.39 785.45V787.75M122.25 785.45V787.75M128.11 785.45V787.75M133.97 785.45V787.75M139.84 785.45V787.75M145.7 785.45V787.75M151.56 785.45V787.75M157.42 785.45V787.75M163.29 785.45V787.75M169.15 785.45V787.75M175.01 785.45V787.75M180.88 785.45V787.75M186.74 785.45V787.75M192.6 785.45V787.75M198.46 785.45V787.75M204.32 785.45V787.75M210.19 785.45V787.75M216.05 785.45V787.75M221.91 785.45V787.75M227.78 785.45V787.75M233.64 785.45V787.75M239.5 785.45V787.75M245.36 785.45V787.75M251.22 785.45V787.75M257.09 785.45V787.75M262.95 785.45V787.75M268.81 785.45V787.75M274.68 785.45V787.75M280.54 785.45V787.75M286.4 785.45V787.75M292.26 785.45V787.75M298.12 785.45V787.75M303.99 785.45V787.75M309.85 785.45V787.75M315.71 785.45V787.75M321.57 785.45V787.75M327.44 785.45V787.75M333.3 785.45V787.75" stroke="#cdcdcd" stroke-width="0.7" fill="none"/>
<text class="x" transform="translate(30.6 788.95) rotate(-90)" text-anchor="end" textLength="21" lengthAdjust="spacingAndGlyphs">Same day</text>
<text class="x" transform="translate(42.32 788.95) rotate(-90)" text-anchor="end">2 weeks</text>
<text class="x" transform="translate(54.05 788.95) rotate(-90)" text-anchor="end">4 weeks</text>
<text class="x" transform="translate(65.78 788.95) rotate(-90)" text-anchor="end">6 weeks</text>
<text class="x" transform="translate(77.5 788.95) rotate(-90)" text-anchor="end">8 weeks</text>
<text class="x" transform="translate(89.23 788.95) rotate(-90)" text-anchor="end">10 weeks</text>
<text class="x" transform="translate(100.95 788.95) rotate(-90)" text-anchor="end">12 weeks</text>
<text class="x" transform="translate(112.68 788.95) rotate(-90)" text-anchor="end">14 weeks</text>
<text class="x" transform="translate(124.4 788.95) rotate(-90)" text-anchor="end">16 weeks</text>
<text class="x" transform="translate(136.12 788.95) rotate(-90)" text-anchor="end">18 weeks</text>
<text class="x" transform="translate(147.85 788.95) rotate(-90)" text-anchor="end">20 weeks</text>
<text class="x" transform="translate(159.57 788.95) rotate(-90)" text-anchor="end">22 weeks</text>
<text class="x" transform="translate(171.3 788.95) rotate(-90)" text-anchor="end">24 weeks</text>
<text class="x" transform="translate(183.03 788.95) rotate(-90)" text-anchor="end">26 weeks</text>
<text class="x" transform="translate(194.75 788.95) rotate(-90)" text-anchor="end">28 weeks</text>
<text class="x" transform="translate(206.47 788.95) rotate(-90)" text-anchor="end">30 weeks</text>
<text class="x" transform="translate(218.2 788.95) rotate(-90)" text-anchor="end">32 weeks</text>
<text class="x" transform="translate(229.93 788.95) rotate(-90)" text-anchor="end">34 weeks</text>
<text class="x" transform="translate(241.65 788.95) rotate(-90)" text-anchor="end">36 weeks</text>
<text class="x" transform="translate(253.38 788.95) rotate(-90)" text-anchor="end">38 weeks</text>
<text class="x" transform="translate(265.1 788.95) rotate(-90)" text-anchor="end">40 weeks</text>
<text class="x" transform="translate(276.82 788.95) rotate(-90)" text-anchor="end">42 weeks</text>
<text class="x" transform="translate(288.55 788.95) rotate(-90)" text-anchor="end">44 weeks</text>
<text class="x" transform="translate(300.27 788.95) rotate(-90)" text-anchor="end">46 weeks</text>
<text class="x" transform="translate(312 788.95) rotate(-90)" text-anchor="end">48 weeks</text>
<text class="x" transform="translate(323.72 788.95) rotate(-90)" text-anchor="end">50 weeks</text>
<text class="x" transform="translate(335.45 788.95) rotate(-90)" text-anchor="end">52 weeks</text>
<text class="b" transform="translate(5.05 701.85) rotate(-90)" text-anchor="middle" textLength="54.4" lengthAdjust="spacingAndGlyphs">Percentage of requests</text>
<text class="b" x="182.25" y="817" text-anchor="middle" textLength="54.2" lengthAdjust="spacingAndGlyphs">Interval until next test</text>
<clipPath id="cpG"><rect x="25.45" y="609.45" width="313.36" height="176.2"/></clipPath>
<polyline clip-path="url(#cpG)" points="28.87,751.45 29.71,634.91 30.54,700.45 31.38,717.45 32.22,731.99 33.06,725.01 33.89,722.17 34.73,645.86 35.57,736.34 36.41,763.16 37.24,762.41 38.08,755.23 38.92,753.34 39.76,752.96 40.59,725.76 41.43,757.12 42.27,763.73 43.11,765.05 43.94,768.07 44.78,765.62 45.62,759.01 46.46,742.76 47.29,766.56 48.13,773.36 48.97,774.12 49.81,774.87 50.64,772.98 51.48,770.34 52.32,754.85 53.16,774.12 53.99,776.38 54.83,777.52 55.67,777.89 56.51,775.06 57.34,769.39 58.18,757.68 59.02,776.95 59.86,780.54 60.69,781.29 61.53,781.86 62.37,780.16 63.21,778 64.04,770.53 64.88,780.06 65.72,782.07 66.56,782.91 67.39,782.77 68.23,781.44 69.07,778.22 69.91,771.28 70.74,781.35 71.58,782.87 72.42,784.1 73.26,784 74.09,782.82 74.93,780.25 75.77,774.68 76.61,782.32 77.44,783.71 78.28,784.44 79.12,784.34 79.96,783.67 80.79,781.84 81.63,777.89 82.47,782.92 83.31,783.88 84.14,781.29 84.98,783.95 85.82,783.23 86.66,780.86 87.49,776.38 88.33,782.55 89.17,783.84 90.01,780.16 90.84,783.44 91.68,783.8 92.52,777.52 93.36,774.68 94.19,782.03 95.03,782.89 95.87,783.58 96.71,783.7 97.54,782.64 98.38,780.29 99.22,768.64 100.06,781.02 100.89,780.73 101.73,784.1 102.57,782.88 103.41,782.69 104.24,780.47 105.08,768.64 105.92,782.25 106.76,783.16 107.59,784.23 108.43,783.9 109.27,783.91 110.11,782.64 110.94,776.38 111.78,783.23 112.62,784.04 113.46,779.78 114.29,784.16 115.13,784.08 115.97,783.32 116.81,777.89 117.64,783.62 118.48,783.85 119.32,784.62 120.16,784.43 120.99,784.37 121.83,783.49 122.67,780.73 123.51,782.39 124.34,781.67 125.18,781.67 126.02,782.88 126.86,781.67 127.69,782.05 128.53,781.67 129.37,782.62 130.21,782.62 131.04,783.78 131.88,783.42 132.72,783.35 133.56,782.54 134.39,780.73 135.23,784.01 136.07,783.99 136.91,784.25 137.74,783.8 138.58,784.52 139.42,784.13 140.26,783.37 141.09,784.18 141.93,783.9 142.77,784.3 143.61,784.26 144.44,783.97 145.28,783.95 146.12,781.67 146.96,784.29 147.79,784.18 148.63,783.99 149.47,784.06 150.31,784.33 151.14,783.72 151.98,782.05 152.82,783.7 153.66,784.39 154.49,784.25 155.33,784.3 156.17,784.16 157.01,783.58 157.84,779.78 158.68,783.87 159.52,784.21 160.36,784.68 161.19,784.38 162.03,784.58 162.87,783.96 163.71,783.56 164.54,784.47 165.38,784.9 166.22,784.55 167.06,784.82 167.89,784.6 168.73,784.4 169.57,783.37 170.41,784.72 171.24,784.89 172.08,784.91 172.92,784.98 173.76,784.62 174.59,784.74 175.43,783.37 176.27,784.53 177.11,784.92 177.94,784.96 178.78,784.84 179.62,784.84 180.46,784.46 181.29,782.05 182.13,784.37 182.97,784.59 183.81,784.5 184.64,784.32 185.48,784.62 186.32,783.88 187.16,780.73 187.99,784.3 188.83,784.34 189.67,784.79 190.51,784.45 191.34,784.58 192.18,784.67 193.02,783.56 193.86,784.88 194.69,784.92 195.53,784.74 196.37,784.99 197.21,784.8 198.04,784.71 198.88,783.75 199.72,784.77 200.56,784.71 201.39,785 202.23,784.76 203.07,784.73 203.91,784.48 204.74,783.75 205.58,784.71 206.42,784.66 207.26,784.91 208.09,784.83 208.93,784.78 209.77,784.6 210.61,784.13 211.44,784.77 212.28,785.18 213.12,785.22 213.96,784.97 214.79,784.71 215.63,784.45 216.47,782.05 217.31,784.7 218.14,784.74 218.98,785.15 219.82,785.21 220.66,785.17 221.49,785.07 222.33,784.13 223.17,784.84 224.01,785.18 224.84,784.99 225.68,784.9 226.52,784.8 227.36,784.76 228.19,784.13 229.03,784.96 229.87,784.98 230.71,784.94 231.54,784.98 232.38,785.13 233.22,784.89 234.06,784.69 234.89,785.25 235.73,785.22 236.57,784.97 237.41,785.16 238.24,785.22 239.08,784.96 239.92,784.69 240.76,785.12 241.59,785.34 242.43,785.35 243.27,785.25 244.11,785.2 244.94,784.9 245.78,784.69 246.62,785.2 247.46,785 248.29,785.03 249.13,785.19 249.97,784.93 250.81,784.97 251.64,784.69 252.48,785.1 253.32,785.24 254.16,785.18 254.99,784.99 255.83,785.11 256.67,785.19 257.51,784.69 258.34,785.15 259.18,785.15 260.02,785.29 260.86,785.12 261.69,785.3 262.53,784.91 263.37,784.51 264.21,785.19 265.04,785.29 265.88,785.13 266.72,785.21 267.56,784.92 268.39,784.92 269.23,783.94 270.07,784.97 270.91,784.97 271.74,785.28 272.58,785.06 273.42,785.08 274.26,785.14 275.09,784.88 275.93,785.02 276.77,785.43 277.61,785.12 278.44,785.39 279.28,785.1 280.12,785.32 280.96,784.88 281.79,785.38 282.63,785.24 283.47,785.09 284.31,785.35 285.14,785.24 285.98,785.14 286.82,784.88 287.66,785.31 288.49,785.23 289.33,785.45 290.17,785.26 291.01,785.1 291.84,785.17 292.68,784.51 293.52,785.26 294.36,785.4 295.19,785.18 296.03,785.28 296.87,785.07 297.71,785.09 298.54,784.88 299.38,785.36 300.22,785.08 301.06,785.09 301.89,785.11 302.73,785.07 303.57,785.04 304.41,784.51 305.24,785.06 306.08,785.16 306.92,785.23 307.76,785.34 308.59,785.36 309.43,785.06 310.27,784.69 311.11,785.14 311.94,785.41 312.78,785.2 313.62,785.2 314.46,785.21 315.29,785.04 316.13,784.69 316.97,785.03 317.81,785.28 318.64,785.14 319.48,785.24 320.32,785.17 321.16,785.14 321.99,784.51 322.83,784.98 323.67,785.25 324.51,785.08 325.34,785.31 326.18,785.15 327.02,784.98 327.86,784.69 328.69,785.1 329.53,785.28 330.37,785.43 331.21,785.26 332.04,785.28 332.88,785.1 333.72,785.07 334.56,785.12 335.39,769.21" fill="none" stroke="#7f7f7f" stroke-width="1.4" stroke-linejoin="round" stroke-linecap="butt"/>
<path d="M220.7 690.1H232.8" stroke="#8c8c8c" stroke-width="1.4" fill="none"/>
<text class="lg" x="233.3" y="692.9" textLength="63.6" lengthAdjust="spacing">1.0-1.39 mmol/L</text>
<text class="L" transform="translate(320.55 636.75) scale(0.91 1)" text-anchor="middle">G</text>
</g>
<g>
<path d="M376 615.45V785.45H683.84" fill="none" stroke="#cdcdcd" stroke-width="0.75"/>
<text class="t" x="370.5" y="787.3" text-anchor="end">0%</text>
<text class="t" x="370.5" y="768.41" text-anchor="end">5%</text>
<text class="t" x="370.5" y="749.52" text-anchor="end">10%</text>
<text class="t" x="370.5" y="730.63" text-anchor="end">15%</text>
<text class="t" x="370.5" y="711.74" text-anchor="end">20%</text>
<text class="t" x="370.5" y="692.86" text-anchor="end">25%</text>
<text class="t" x="370.5" y="673.97" text-anchor="end">30%</text>
<text class="t" x="370.5" y="655.08" text-anchor="end">35%</text>
<text class="t" x="370.5" y="636.19" text-anchor="end">40%</text>
<text class="t" x="370.5" y="617.3" text-anchor="end">45%</text>
<path d="M373.7 785.45H376M373.7 766.56H376M373.7 747.67H376M373.7 728.78H376M373.7 709.89H376M373.7 691.01H376M373.7 672.12H376M373.7 653.23H376M373.7 634.34H376M373.7 615.45H376M376 785.45V787.75M381.87 785.45V787.75M387.74 785.45V787.75M393.61 785.45V787.75M399.49 785.45V787.75M405.36 785.45V787.75M411.23 785.45V787.75M417.1 785.45V787.75M422.97 785.45V787.75M428.84 785.45V787.75M434.72 785.45V787.75M440.59 785.45V787.75M446.46 785.45V787.75M452.33 785.45V787.75M458.2 785.45V787.75M464.07 785.45V787.75M469.95 785.45V787.75M475.82 785.45V787.75M481.69 785.45V787.75M487.56 785.45V787.75M493.43 785.45V787.75M499.3 785.45V787.75M505.18 785.45V787.75M511.05 785.45V787.75M516.92 785.45V787.75M522.79 785.45V787.75M528.66 785.45V787.75M534.53 785.45V787.75M540.4 785.45V787.75M546.28 785.45V787.75M552.15 785.45V787.75M558.02 785.45V787.75M563.89 785.45V787.75M569.76 785.45V787.75M575.63 785.45V787.75M581.51 785.45V787.75M587.38 785.45V787.75M593.25 785.45V787.75M599.12 785.45V787.75M604.99 785.45V787.75M610.86 785.45V787.75M616.74 785.45V787.75M622.61 785.45V787.75M628.48 785.45V787.75M634.35 785.45V787.75M640.22 785.45V787.75M646.09 785.45V787.75M651.97 785.45V787.75M657.84 785.45V787.75M663.71 785.45V787.75M669.58 785.45V787.75M675.45 785.45V787.75M681.32 785.45V787.75" stroke="#cdcdcd" stroke-width="0.7" fill="none"/>
<text class="x" transform="translate(378.15 788.95) rotate(-90)" text-anchor="end" textLength="21" lengthAdjust="spacingAndGlyphs">Same day</text>
<text class="x" transform="translate(389.89 788.95) rotate(-90)" text-anchor="end">2 weeks</text>
<text class="x" transform="translate(401.64 788.95) rotate(-90)" text-anchor="end">4 weeks</text>
<text class="x" transform="translate(413.38 788.95) rotate(-90)" text-anchor="end">6 weeks</text>
<text class="x" transform="translate(425.12 788.95) rotate(-90)" text-anchor="end">8 weeks</text>
<text class="x" transform="translate(436.87 788.95) rotate(-90)" text-anchor="end">10 weeks</text>
<text class="x" transform="translate(448.61 788.95) rotate(-90)" text-anchor="end">12 weeks</text>
<text class="x" transform="translate(460.35 788.95) rotate(-90)" text-anchor="end">14 weeks</text>
<text class="x" transform="translate(472.1 788.95) rotate(-90)" text-anchor="end">16 weeks</text>
<text class="x" transform="translate(483.84 788.95) rotate(-90)" text-anchor="end">18 weeks</text>
<text class="x" transform="translate(495.58 788.95) rotate(-90)" text-anchor="end">20 weeks</text>
<text class="x" transform="translate(507.33 788.95) rotate(-90)" text-anchor="end">22 weeks</text>
<text class="x" transform="translate(519.07 788.95) rotate(-90)" text-anchor="end">24 weeks</text>
<text class="x" transform="translate(530.81 788.95) rotate(-90)" text-anchor="end">26 weeks</text>
<text class="x" transform="translate(542.55 788.95) rotate(-90)" text-anchor="end">28 weeks</text>
<text class="x" transform="translate(554.3 788.95) rotate(-90)" text-anchor="end">30 weeks</text>
<text class="x" transform="translate(566.04 788.95) rotate(-90)" text-anchor="end">32 weeks</text>
<text class="x" transform="translate(577.78 788.95) rotate(-90)" text-anchor="end">34 weeks</text>
<text class="x" transform="translate(589.53 788.95) rotate(-90)" text-anchor="end">36 weeks</text>
<text class="x" transform="translate(601.27 788.95) rotate(-90)" text-anchor="end">38 weeks</text>
<text class="x" transform="translate(613.01 788.95) rotate(-90)" text-anchor="end">40 weeks</text>
<text class="x" transform="translate(624.76 788.95) rotate(-90)" text-anchor="end">42 weeks</text>
<text class="x" transform="translate(636.5 788.95) rotate(-90)" text-anchor="end">44 weeks</text>
<text class="x" transform="translate(648.24 788.95) rotate(-90)" text-anchor="end">46 weeks</text>
<text class="x" transform="translate(659.99 788.95) rotate(-90)" text-anchor="end">48 weeks</text>
<text class="x" transform="translate(671.73 788.95) rotate(-90)" text-anchor="end">50 weeks</text>
<text class="x" transform="translate(683.47 788.95) rotate(-90)" text-anchor="end">52 weeks</text>
<text class="b" transform="translate(352.6 701.85) rotate(-90)" text-anchor="middle" textLength="54.4" lengthAdjust="spacingAndGlyphs">Percentage of requests</text>
<text class="b" x="529.8" y="817" text-anchor="middle" textLength="54.2" lengthAdjust="spacingAndGlyphs">Interval until next test</text>
<clipPath id="cpH"><rect x="373" y="609.45" width="313.84" height="176.2"/></clipPath>
<polyline clip-path="url(#cpH)" points="376.42,717.83 377.26,624.52 378.1,754.66 378.94,761.08 379.77,767.51 380.61,773.93 381.45,778.65 382.29,773.36 383.13,782.05 383.97,784.43 384.81,783.56 385.65,784.32 386.49,783.11 387.32,783.37 388.16,781.86 389,783.56 389.84,783.56 390.68,785 391.52,785.07 392.36,784.69 393.2,783.56 394.03,782.62 394.87,784.51 395.71,785 396.55,785.07 397.39,785.26 398.23,785.26 399.07,785.15 399.91,784.69 400.74,785 401.58,785.07 402.42,785 403.26,785.07 404.1,784.69 404.94,783.94 405.78,784.01 406.62,784.69 407.45,784.69 408.29,785 409.13,785.07 409.97,785.07 410.81,785 411.65,784.69 412.49,785.07 413.33,785.15 414.17,784.88 415,783.94 415.84,784.01 416.68,784.88 417.52,784.69 418.36,785.15 419.2,785.34 420.04,785.34 420.88,785.34 421.71,785.34 422.55,785.34 423.39,785.34 424.23,785.34 425.07,785.34 425.91,784.62 426.75,784.69 427.59,785.34 428.43,785.34 429.26,785.34 430.1,784.69 430.94,785 431.78,785.34 432.62,785.34 433.46,785.34 434.3,785.34 435.14,785.15 435.97,785.34 436.81,785.34 437.65,785.34 438.49,785.34 439.33,785.34 440.17,785.34 441.01,785.34 441.85,785.34 442.68,785.34 443.52,785.34 444.36,785.34 445.2,785.34 446.04,785.34 446.88,785 447.72,785.34 448.56,785.34 449.39,785.34 450.23,785.34 451.07,785.34 451.91,785.34 452.75,785.34 453.59,785.34 454.43,785.34 455.27,785.34 456.11,785.34 456.94,785.34 457.78,785.34 458.62,785.34 459.46,785.34 460.3,785.34 461.14,785.34 461.98,785.34 462.82,785.34 463.65,785.34 464.49,785.34 465.33,785.34 466.17,785.34 467.01,785.34 467.85,785.34 468.69,785.34 469.53,785.34 470.37,785.07 471.2,785.07 472.04,785.34 472.88,785.34 473.72,785.34 474.56,785.34 475.4,785.34 476.24,785.07 477.08,785.34 477.91,785.34 478.75,785.34 479.59,785.34 480.43,785.34 481.27,785.34 482.11,785.34 482.95,785.34 483.79,785.34 484.62,785.34 485.46,785.34 486.3,785.34 487.14,785.34 487.98,785.07 488.82,785.34 489.66,785.34 490.5,785.34 491.33,785.07 492.17,785.34 493.01,785.34 493.85,785.34 494.69,785.34 495.53,785.34 496.37,785.34 497.21,785.34 498.05,785.34 498.88,785.34 499.72,785.34 500.56,785.34 501.4,785.34 502.24,785.34 503.08,785.34 503.92,785.34 504.76,785.34 505.59,785.34 506.43,785.34 507.27,785.34 508.11,785.34 508.95,785.34 509.79,785.34 510.63,785.34 511.47,785.34 512.31,785.34 513.14,785.34 513.98,785.34 514.82,785.34 515.66,785.34 516.5,785.34 517.34,785.34 518.18,785.34 519.02,785.34 519.85,785.34 520.69,785.34 521.53,785.34 522.37,785.34 523.21,785.34 524.05,785.34 524.89,785.34 525.73,785.34 526.56,785.34 527.4,785.34 528.24,785.34 529.08,785.34 529.92,785.34 530.76,785.34 531.6,785.34 532.44,785.34 533.27,785.34 534.11,785.34 534.95,785.34 535.79,785.34 536.63,785.34 537.47,785.34 538.31,785.34 539.15,785.34 539.99,785.34 540.82,785.34 541.66,785.34 542.5,785.34 543.34,785.34 544.18,785.07 545.02,785.34 545.86,785.34 546.7,785.34 547.53,785.34 548.37,785.34 549.21,785.34 550.05,785.34 550.89,785.34 551.73,785.34 552.57,785.34 553.41,785.34 554.25,785.34 555.08,785.34 555.92,785.34 556.76,785.34 557.6,785.34 558.44,785.34 559.28,785.34 560.12,785.34 560.96,785.34 561.79,785.34 562.63,785.34 563.47,785.34 564.31,785.34 565.15,785.34 565.99,785.34 566.83,785.34 567.67,785.34 568.5,785.34 569.34,785.34 570.18,785.34 571.02,785.34 571.86,785.34 572.7,785.34 573.54,785.34 574.38,785.34 575.22,785.34 576.05,785.34 576.89,785.34 577.73,785.34 578.57,785.34 579.41,785.34 580.25,785.34 581.09,785.34 581.93,785.34 582.76,785.34 583.6,785.34 584.44,785.34 585.28,785.34 586.12,785.34 586.96,785.34 587.8,785.34 588.64,785.34 589.47,785.34 590.31,785.34 591.15,785.34 591.99,785.34 592.83,785.34 593.67,785.34 594.51,785.34 595.35,785.34 596.18,785.34 597.02,785.34 597.86,785.34 598.7,785.34 599.54,785.34 600.38,785.34 601.22,785.34 602.06,785.34 602.9,785.34 603.73,785.34 604.57,785.34 605.41,785.34 606.25,785.34 607.09,785.34 607.93,785.34 608.77,784.51 609.61,785.34 610.44,785.34 611.28,785.34 612.12,785.34 612.96,785.34 613.8,785.34 614.64,785.34 615.48,785.34 616.32,785.34 617.15,785.34 617.99,785.34 618.83,785.34 619.67,785.34 620.51,785.34 621.35,785.34 622.19,785.34 623.03,785.34 623.87,785.34 624.7,785.34 625.54,785.34 626.38,785.34 627.22,785.34 628.06,785.34 628.9,785.34 629.74,785.34 630.58,785.34 631.41,785.34 632.25,785.34 633.09,785.34 633.93,785.34 634.77,785.34 635.61,785.34 636.45,785.34 637.29,785.34 638.12,785.34 638.96,785.34 639.8,785.34 640.64,785.34 641.48,785.34 642.32,785.34 643.16,785.34 644,785.34 644.84,785.34 645.67,785.34 646.51,785.34 647.35,785.34 648.19,785.34 649.03,785.34 649.87,785.34 650.71,785.34 651.55,785.34 652.38,785.34 653.22,785.34 654.06,785.34 654.9,785.34 655.74,785.34 656.58,785.34 657.42,785.34 658.26,785.34 659.1,785.34 659.93,785.34 660.77,785.34 661.61,785.34 662.45,785.34 663.29,785.34 664.13,785.34 664.97,785.34 665.81,785.34 666.64,785.34 667.48,785.34 668.32,785.34 669.16,785.34 670,785.34 670.84,785.34 671.68,785.34 672.52,785.34 673.35,785.34 674.19,785.34 675.03,785.34 675.87,785.34 676.71,785.34 677.55,785.34 678.39,785.34 679.23,785.34 680.07,785.34 680.9,785.34 681.74,785.34 682.58,785.34 683.42,784.88" fill="none" stroke="#7f7f7f" stroke-width="1.3" stroke-linejoin="round" stroke-linecap="butt"/>
<path d="M561.3 690.1H573.4" stroke="#8c8c8c" stroke-width="1.3" fill="none"/>
<text class="lg" x="574" y="692.9" textLength="49.3" lengthAdjust="spacing">&gt;1.4 mmol/L</text>
<text class="L" transform="translate(664.7 636.85) scale(0.97 1)" text-anchor="middle">H</text>
</g>
</svg>
</body></html>
